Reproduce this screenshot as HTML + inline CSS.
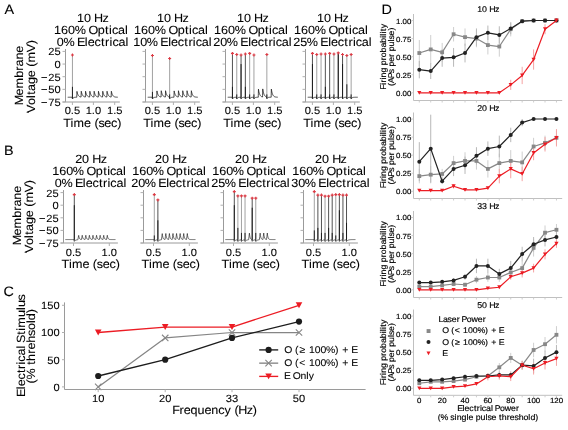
<!DOCTYPE html>
<html><head><meta charset="utf-8"><style>
html,body{margin:0;padding:0;background:#fff;width:568px;height:430px;overflow:hidden}
svg{display:block;font-family:"Liberation Sans", sans-serif;text-rendering:geometricPrecision;will-change:transform}
</style></head><body>
<svg width="568" height="430" viewBox="0 0 568 430">
<rect width="568" height="430" fill="#fff"/>
<text transform="scale(1.0600 1)" x="4.24" y="14" font-size="13.608" fill="#000" stroke="#000" stroke-width="0.08">A</text>
<text transform="scale(1.0600 1)" x="3.78" y="155" font-size="13.608" fill="#000" stroke="#000" stroke-width="0.08">B</text>
<text transform="scale(1.0600 1)" x="3.39" y="296" font-size="13.608" fill="#000" stroke="#000" stroke-width="0.08">C</text>
<text transform="scale(1.0600 1)" x="359.95" y="14" font-size="13.608" fill="#000" stroke="#000" stroke-width="0.08">D</text>
<polyline points="67.72,97.24 67.94,97.24 68.15,97.24 68.37,97.24 68.58,97.24 68.8,97.24 69.01,97.24 69.23,97.24 69.44,97.24 69.66,97.24 69.87,97.24 70.09,97.24 70.3,97.24 70.52,97.24 70.73,97.24 70.95,97.24 71.16,97.24 71.38,97.24 71.59,97.24 71.81,97.24 72.02,97.24 72.23,97.24 72.45,99.01 72.49,98.93 72.56,98.81 72.67,98.62 72.79,98.43 72.88,98.32 73.01,98.17 73.09,98.08 73.31,97.9 73.53,97.75 73.74,97.64 73.95,97.55 74.17,97.48 74.39,97.43 74.6,97.39 74.81,97.36 75.03,97.33 75.25,97.31 75.46,97.3 75.67,97.29 75.89,97.28 76.11,97.27 76.32,97.26 76.53,97.26 76.75,97.26 76.79,96.09 76.86,94.34 76.97,91.43 77.09,92.02 77.18,92.38 77.31,92.88 77.39,93.18 77.61,93.84 77.83,94.4 78.04,94.86 78.26,95.25 78.47,95.58 78.69,95.85 78.9,96.08 79.12,96.27 79.33,96.43 79.55,96.56 79.76,96.67 79.98,96.77 80.19,96.84 80.41,96.91 80.62,96.96 80.84,97.01 81.05,97.05 81.09,95.89 81.16,94.16 81.27,91.26 81.39,91.87 81.48,92.24 81.61,92.75 81.7,93.06 81.91,93.74 82.12,94.31 82.34,94.79 82.56,95.19 82.77,95.53 82.98,95.81 83.2,96.04 83.42,96.24 83.63,96.4 83.84,96.54 84.06,96.66 84.28,96.75 84.49,96.83 84.7,96.9 84.92,96.96 85.14,97 85.35,97.04 85.39,95.89 85.46,94.15 85.56,91.26 85.69,91.86 85.78,92.24 85.91,92.74 86,93.05 86.21,93.74 86.42,94.31 86.64,94.79 86.86,95.19 87.07,95.53 87.28,95.81 87.5,96.04 87.72,96.24 87.93,96.4 88.15,96.54 88.36,96.66 88.58,96.75 88.79,96.83 89,96.9 89.22,96.96 89.44,97 89.65,97.04 89.69,95.89 89.76,94.15 89.87,91.26 89.99,91.86 90.08,92.24 90.21,92.74 90.3,93.05 90.51,93.74 90.73,94.31 90.94,94.79 91.16,95.19 91.37,95.53 91.59,95.81 91.8,96.04 92.02,96.24 92.23,96.4 92.44,96.54 92.66,96.66 92.88,96.75 93.09,96.83 93.31,96.9 93.52,96.96 93.73,97 93.95,97.04 93.99,95.89 94.06,94.15 94.16,91.26 94.29,91.86 94.38,92.24 94.51,92.74 94.59,93.05 94.81,93.74 95.03,94.31 95.24,94.79 95.45,95.19 95.67,95.53 95.88,95.81 96.1,96.04 96.31,96.24 96.53,96.4 96.75,96.54 96.96,96.66 97.17,96.75 97.39,96.83 97.61,96.9 97.82,96.96 98.03,97 98.25,97.04 98.29,95.89 98.36,94.15 98.47,91.26 98.59,91.86 98.68,92.24 98.81,92.74 98.9,93.05 99.11,93.74 99.33,94.31 99.54,94.79 99.75,95.19 99.97,95.53 100.19,95.81 100.4,96.04 100.62,96.24 100.83,96.4 101.05,96.54 101.26,96.66 101.48,96.75 101.69,96.83 101.91,96.9 102.12,96.96 102.34,97 102.55,97.04 102.59,95.89 102.66,94.15 102.77,91.26 102.89,91.86 102.98,92.24 103.11,92.74 103.2,93.05 103.41,93.74 103.62,94.31 103.84,94.79 104.06,95.19 104.27,95.53 104.49,95.81 104.7,96.04 104.91,96.24 105.13,96.4 105.34,96.54 105.56,96.66 105.78,96.75 105.99,96.83 106.2,96.9 106.42,96.96 106.63,97 106.85,97.04 106.89,95.89 106.96,94.15 107.06,91.26 107.19,91.86 107.28,92.24 107.41,92.74 107.5,93.05 107.71,93.74 107.93,94.31 108.14,94.79 108.36,95.19 108.57,95.53 108.78,95.81 109,96.04 109.22,96.24 109.43,96.4 109.65,96.54 109.86,96.66 110.08,96.75 110.29,96.83 110.5,96.9 110.72,96.96 110.94,97 111.15,97.04 111.19,95.89 111.26,94.15 111.37,91.26 111.49,91.86 111.58,92.24 111.71,92.74 111.8,93.05 112.01,93.74 112.22,94.31 112.44,94.79 112.66,95.19 112.87,95.53 113.09,95.81 113.3,96.04 113.52,96.24 113.73,96.4 113.95,96.54 114.16,96.66 114.38,96.75 114.59,96.83 114.81,96.9 115.02,96.96 115.24,97 115.45,97.04 115.66,97.08 115.88,97.1 116.09,97.13 116.31,97.15 116.53,97.16 116.74,97.17 116.95,97.19 117.17,97.2 117.38,97.2 117.6,97.21 117.81,97.22" fill="none" stroke="#1a1a1a" stroke-width="0.8" stroke-linejoin="round"/>
<path d="M72.45 97.24L72.45 54.94" fill="none" stroke="#8a8a8a" stroke-width="0.8"/>
<path d="M72.45 98.24L72.45 86.82" fill="none" stroke="#1a1a1a" stroke-width="0.95"/>
<line x1="65.5" y1="49" x2="65.5" y2="102" stroke="#9a9a9a" stroke-width="1"/>
<line x1="62.5" y1="102" x2="119.8" y2="102" stroke="#9a9a9a" stroke-width="1"/>
<line x1="62.5" y1="51.4" x2="65.5" y2="51.4" stroke="#b0b0b0" stroke-width="1"/>
<line x1="62.5" y1="64.05" x2="65.5" y2="64.05" stroke="#b0b0b0" stroke-width="1"/>
<line x1="62.5" y1="76.7" x2="65.5" y2="76.7" stroke="#b0b0b0" stroke-width="1"/>
<line x1="62.5" y1="89.35" x2="65.5" y2="89.35" stroke="#b0b0b0" stroke-width="1"/>
<line x1="62.5" y1="102" x2="65.5" y2="102" stroke="#b0b0b0" stroke-width="1"/>
<line x1="72.4" y1="102" x2="72.4" y2="105" stroke="#b0b0b0" stroke-width="1"/>
<line x1="93.4" y1="102" x2="93.4" y2="105" stroke="#b0b0b0" stroke-width="1"/>
<line x1="114.7" y1="102" x2="114.7" y2="105" stroke="#b0b0b0" stroke-width="1"/>
<path d="M70.95 54.39h3v1.1h-3zM71.9 53.44h1.1v3h-1.1z" fill="#dc3a44"/>
<text transform="scale(1.0600 1)" x="72.67 79.27 85.87 88.79 96.73" y="22" font-size="11.880" fill="#000" stroke="#000" stroke-width="0.08">10 Hz</text>
<text transform="scale(1.0600 1)" x="51.04 57.64 64.24 70.49 80.7 83.47 92.16 99.14 102.95 105.59 111.29 117.9" y="34" font-size="11.880" fill="#000" stroke="#000" stroke-width="0.08">160% Optical</text>
<text transform="scale(1.0600 1)" x="53.63 59.88 70.09 72.71 80.07 82.72 89.1 95.31 99.15 103.38 106.02 111.72 118.33" y="46" font-size="11.880" fill="#000" stroke="#000" stroke-width="0.08">0% Electrical</text>
<text transform="scale(1.0600 1)" x="61.01 66.84 69.76" y="114" font-size="10.498" fill="#000" stroke="#000" stroke-width="0.08">0.5</text>
<text transform="scale(1.0600 1)" x="80.82 86.65 89.57" y="114" font-size="10.498" fill="#000" stroke="#000" stroke-width="0.08">1.0</text>
<text transform="scale(1.0600 1)" x="100.91 106.75 109.66" y="114" font-size="10.498" fill="#000" stroke="#000" stroke-width="0.08">1.5</text>
<text transform="scale(1.0600 1)" x="59.6 66.52 69.38 79.27 85.77 89.11 92.85 98.41 104.79 110.66" y="127" font-size="11.880" fill="#000" stroke="#000" stroke-width="0.08">Time (sec)</text>
<text transform="scale(1.0600 1)" x="45.55 51.38" y="55" font-size="10.498" fill="#000" stroke="#000" stroke-width="0.08">25</text>
<text transform="scale(1.0600 1)" x="51.38" y="68" font-size="10.498" fill="#000" stroke="#000" stroke-width="0.08">0</text>
<text transform="scale(1.0600 1)" x="38.64 45.55 51.38" y="81" font-size="10.498" fill="#000" stroke="#000" stroke-width="0.08">−25</text>
<text transform="scale(1.0600 1)" x="38.64 45.55 51.38" y="93" font-size="10.498" fill="#000" stroke="#000" stroke-width="0.08">−50</text>
<text transform="scale(1.0600 1)" x="38.64 45.55 51.38" y="106" font-size="10.498" fill="#000" stroke="#000" stroke-width="0.08">−75</text>
<text transform="rotate(-90) scale(1.06 1)" x="-99.37 -90.05 -83.45 -73.46 -66.71 -62.72 -56.25 -49.77" y="23.4" font-size="11.880" fill="#000" stroke="#000" stroke-width="0.08">Membrane</text>
<text transform="rotate(-90) scale(1.06 1)" x="-106.51 -99.13 -92.53 -89.39 -85.83 -79.35 -72.87 -66.37 -63.03 -58.92 -49.33 -41.77" y="34.8" font-size="11.880" fill="#000" stroke="#000" stroke-width="0.08">Voltage (mV)</text>
<polyline points="147.72,97.24 147.94,97.24 148.15,97.24 148.36,97.24 148.58,97.24 148.79,97.24 149.01,97.24 149.22,97.24 149.44,97.24 149.66,97.24 149.87,97.24 150.08,97.24 150.3,97.24 150.51,97.24 150.73,97.24 150.94,97.24 151.16,97.24 151.38,97.24 151.59,97.24 151.8,97.24 152.02,97.24 152.23,97.24 152.45,99.01 152.49,98.93 152.56,98.81 152.66,98.62 152.79,98.43 152.88,98.32 153.01,98.17 153.09,98.08 153.31,97.9 153.52,97.75 153.74,97.64 153.95,97.55 154.17,97.48 154.38,97.43 154.6,97.39 154.81,97.36 155.03,97.33 155.24,97.31 155.46,97.3 155.67,97.29 155.89,97.28 156.1,97.27 156.32,97.26 156.53,97.26 156.75,97.26 156.79,95.99 156.86,94.09 156.96,90.93 157.09,91.57 157.18,91.96 157.31,92.5 157.39,92.82 157.61,93.55 157.82,94.15 158.04,94.66 158.25,95.08 158.47,95.43 158.69,95.73 158.9,95.98 159.11,96.18 159.33,96.36 159.54,96.5 159.76,96.62 159.97,96.72 160.19,96.81 160.41,96.88 160.62,96.94 160.83,96.99 161.05,97.03 161.09,95.77 161.16,93.89 161.26,90.74 161.39,91.4 161.48,91.8 161.61,92.36 161.69,92.69 161.91,93.44 162.12,94.06 162.34,94.58 162.55,95.02 162.77,95.38 162.98,95.69 163.2,95.94 163.41,96.15 163.63,96.33 163.84,96.48 164.06,96.61 164.27,96.71 164.49,96.8 164.7,96.87 164.92,96.93 165.13,96.98 165.35,97.03 165.39,95.77 165.46,93.88 165.56,90.74 165.69,91.4 165.78,91.8 165.91,92.35 165.99,92.69 166.21,93.43 166.42,94.06 166.64,94.58 166.85,95.01 167.07,95.38 167.28,95.68 167.5,95.94 167.71,96.15 167.93,96.33 168.14,96.48 168.36,96.6 168.57,96.71 168.79,96.8 169,96.87 169.22,96.93 169.44,96.98 169.65,98.8 169.69,98.72 169.76,98.61 169.86,98.44 169.99,98.27 170.08,98.16 170.21,98.03 170.29,97.95 170.51,97.79 170.72,97.66 170.94,97.56 171.16,97.49 171.37,97.43 171.58,97.39 171.8,97.35 172.01,97.33 172.23,97.31 172.44,97.29 172.66,97.28 172.88,97.27 173.09,97.26 173.3,97.26 173.52,97.25 173.73,97.25 173.95,97.25 173.99,95.98 174.06,94.09 174.16,90.92 174.29,91.56 174.38,91.96 174.51,92.49 174.59,92.82 174.81,93.54 175.02,94.15 175.24,94.65 175.45,95.08 175.67,95.43 175.88,95.73 176.1,95.98 176.31,96.18 176.53,96.36 176.74,96.5 176.96,96.62 177.17,96.72 177.39,96.81 177.6,96.88 177.82,96.94 178.03,96.99 178.25,97.03 178.29,95.77 178.36,93.89 178.46,90.74 178.59,91.4 178.68,91.8 178.81,92.36 178.89,92.69 179.11,93.44 179.32,94.06 179.54,94.58 179.75,95.02 179.97,95.38 180.19,95.69 180.4,95.94 180.61,96.15 180.83,96.33 181.04,96.48 181.26,96.61 181.47,96.71 181.69,96.8 181.91,96.87 182.12,96.93 182.33,96.98 182.55,97.03 182.59,95.77 182.66,93.88 182.76,90.74 182.89,91.4 182.98,91.8 183.11,92.35 183.19,92.69 183.41,93.43 183.62,94.06 183.84,94.58 184.06,95.01 184.27,95.38 184.48,95.68 184.7,95.94 184.91,96.15 185.13,96.33 185.34,96.48 185.56,96.6 185.77,96.71 185.99,96.8 186.2,96.87 186.42,96.93 186.63,96.98 186.85,97.02 186.89,95.77 186.96,93.88 187.06,90.74 187.19,91.4 187.28,91.8 187.41,92.35 187.49,92.69 187.71,93.43 187.92,94.06 188.14,94.58 188.35,95.01 188.57,95.38 188.78,95.68 189,95.94 189.21,96.15 189.43,96.33 189.64,96.48 189.86,96.6 190.07,96.71 190.29,96.8 190.5,96.87 190.72,96.93 190.94,96.98 191.15,97.02 191.19,95.77 191.26,93.88 191.36,90.74 191.49,91.4 191.58,91.8 191.71,92.35 191.79,92.69 192.01,93.43 192.22,94.06 192.44,94.58 192.66,95.01 192.87,95.38 193.08,95.68 193.3,95.94 193.51,96.15 193.73,96.33 193.94,96.48 194.16,96.6 194.38,96.71 194.59,96.8 194.81,96.87 195.02,96.93 195.23,96.98 195.45,97.02 195.66,97.06 195.88,97.09 196.09,97.12 196.31,97.14 196.52,97.15 196.74,97.17 196.95,97.18 197.17,97.19 197.38,97.2 197.6,97.21 197.81,97.21" fill="none" stroke="#1a1a1a" stroke-width="0.8" stroke-linejoin="round"/>
<path d="M152.45 97.24L152.45 55.45" fill="none" stroke="#8a8a8a" stroke-width="0.8"/>
<path d="M152.45 98.24L152.45 91.88" fill="none" stroke="#1a1a1a" stroke-width="0.95"/>
<path d="M169.65 97.24L169.65 58.48" fill="none" stroke="#8a8a8a" stroke-width="0.8"/>
<path d="M169.65 98.24L169.65 94.41" fill="none" stroke="#1a1a1a" stroke-width="0.95"/>
<line x1="145.5" y1="49" x2="145.5" y2="102" stroke="#9a9a9a" stroke-width="1"/>
<line x1="142.5" y1="102" x2="199.8" y2="102" stroke="#9a9a9a" stroke-width="1"/>
<line x1="142.5" y1="51.4" x2="145.5" y2="51.4" stroke="#b0b0b0" stroke-width="1"/>
<line x1="142.5" y1="64.05" x2="145.5" y2="64.05" stroke="#b0b0b0" stroke-width="1"/>
<line x1="142.5" y1="76.7" x2="145.5" y2="76.7" stroke="#b0b0b0" stroke-width="1"/>
<line x1="142.5" y1="89.35" x2="145.5" y2="89.35" stroke="#b0b0b0" stroke-width="1"/>
<line x1="142.5" y1="102" x2="145.5" y2="102" stroke="#b0b0b0" stroke-width="1"/>
<line x1="152.4" y1="102" x2="152.4" y2="105" stroke="#b0b0b0" stroke-width="1"/>
<line x1="173.4" y1="102" x2="173.4" y2="105" stroke="#b0b0b0" stroke-width="1"/>
<line x1="194.7" y1="102" x2="194.7" y2="105" stroke="#b0b0b0" stroke-width="1"/>
<path d="M150.95 54.9h3v1.1h-3zM151.9 53.95h1.1v3h-1.1z" fill="#dc3a44"/>
<path d="M168.15 57.93h3v1.1h-3zM169.1 56.98h1.1v3h-1.1z" fill="#dc3a44"/>
<text transform="scale(1.0600 1)" x="148.14 154.74 161.35 164.26 172.2" y="22" font-size="11.880" fill="#000" stroke="#000" stroke-width="0.08">10 Hz</text>
<text transform="scale(1.0600 1)" x="126.51 133.11 139.71 145.97 156.18 158.94 167.63 174.62 178.42 181.07 186.77 193.37" y="34" font-size="11.880" fill="#000" stroke="#000" stroke-width="0.08">160% Optical</text>
<text transform="scale(1.0600 1)" x="125.61 132.21 138.46 148.68 151.29 158.65 161.3 167.68 173.89 177.73 181.96 184.61 190.31 196.91" y="46" font-size="11.880" fill="#000" stroke="#000" stroke-width="0.08">10% Electrical</text>
<text transform="scale(1.0600 1)" x="136.48 142.32 145.23" y="114" font-size="10.498" fill="#000" stroke="#000" stroke-width="0.08">0.5</text>
<text transform="scale(1.0600 1)" x="156.29 162.13 165.04" y="114" font-size="10.498" fill="#000" stroke="#000" stroke-width="0.08">1.0</text>
<text transform="scale(1.0600 1)" x="176.39 182.22 185.13" y="114" font-size="10.498" fill="#000" stroke="#000" stroke-width="0.08">1.5</text>
<text transform="scale(1.0600 1)" x="135.07 141.99 144.85 154.75 161.24 164.59 168.32 173.88 180.26 186.13" y="127" font-size="11.880" fill="#000" stroke="#000" stroke-width="0.08">Time (sec)</text>
<polyline points="227.72,97.24 227.94,97.24 228.15,97.24 228.36,97.24 228.58,97.24 228.79,97.24 229.01,97.24 229.22,97.24 229.44,97.24 229.66,97.24 229.87,97.24 230.08,97.24 230.3,97.24 230.51,97.24 230.73,97.24 230.94,97.24 231.16,97.24 231.38,97.24 231.59,97.24 231.8,97.24 232.02,97.24 232.23,97.24 232.45,99.01 232.49,98.93 232.56,98.81 232.66,98.62 232.79,98.43 232.88,98.32 233.01,98.17 233.09,98.08 233.31,97.9 233.52,97.75 233.74,97.64 233.95,97.55 234.17,97.48 234.38,97.43 234.6,97.39 234.81,97.36 235.03,97.33 235.24,97.31 235.46,97.3 235.67,97.29 235.89,97.28 236.1,97.27 236.32,97.26 236.53,97.26 236.75,99.03 236.79,98.94 236.86,98.82 236.96,98.63 237.09,98.44 237.18,98.33 237.31,98.17 237.39,98.09 237.61,97.9 237.82,97.75 238.04,97.64 238.25,97.55 238.47,97.48 238.69,97.43 238.9,97.39 239.11,97.36 239.33,97.33 239.54,97.31 239.76,97.3 239.97,97.29 240.19,97.28 240.41,97.27 240.62,97.26 240.83,97.26 241.05,99.03 241.09,98.94 241.16,98.82 241.26,98.63 241.39,98.44 241.48,98.33 241.61,98.17 241.69,98.09 241.91,97.9 242.12,97.75 242.34,97.64 242.55,97.55 242.77,97.48 242.98,97.43 243.2,97.39 243.41,97.36 243.63,97.33 243.84,97.31 244.06,97.3 244.27,97.29 244.49,97.28 244.7,97.27 244.92,97.26 245.13,97.26 245.35,99.03 245.39,98.94 245.46,98.82 245.56,98.63 245.69,98.44 245.78,98.33 245.91,98.17 245.99,98.09 246.21,97.9 246.42,97.75 246.64,97.64 246.85,97.55 247.07,97.48 247.28,97.43 247.5,97.39 247.71,97.36 247.93,97.33 248.14,97.31 248.36,97.3 248.57,97.29 248.79,97.28 249,97.27 249.22,97.26 249.44,97.26 249.65,99.03 249.69,98.94 249.76,98.82 249.86,98.63 249.99,98.44 250.08,98.33 250.21,98.17 250.29,98.09 250.51,97.9 250.72,97.75 250.94,97.64 251.16,97.55 251.37,97.48 251.58,97.43 251.8,97.39 252.01,97.36 252.23,97.33 252.44,97.31 252.66,97.3 252.88,97.29 253.09,97.28 253.3,97.27 253.52,97.26 253.73,97.26 253.95,99.03 253.99,98.94 254.06,98.82 254.16,98.63 254.29,98.44 254.38,98.33 254.51,98.17 254.59,98.09 254.81,97.9 255.02,97.75 255.24,97.64 255.45,97.55 255.67,97.48 255.88,97.43 256.1,97.39 256.31,97.36 256.53,97.33 256.75,97.31 256.96,97.3 257.18,97.29 257.39,97.28 257.6,97.27 257.82,97.26 258.03,97.26 258.25,97.26 258.29,95.64 258.36,93.21 258.46,89.16 258.59,89.98 258.68,90.48 258.81,91.17 258.89,91.58 259.11,92.51 259.32,93.28 259.54,93.93 259.75,94.47 259.97,94.93 260.19,95.3 260.4,95.62 260.62,95.89 260.83,96.11 261.05,96.29 261.26,96.45 261.47,96.58 261.69,96.69 261.9,96.78 262.12,96.85 262.33,96.92 262.55,96.97 262.59,95.36 262.66,92.95 262.76,88.92 262.89,89.77 262.98,90.28 263.11,90.99 263.19,91.42 263.41,92.37 263.62,93.17 263.84,93.84 264.06,94.39 264.27,94.86 264.49,95.25 264.7,95.58 264.91,95.85 265.13,96.08 265.34,96.27 265.56,96.43 265.77,96.56 265.99,96.67 266.2,96.77 266.42,96.84 266.63,96.91 266.85,98.73 266.89,98.66 266.96,98.55 267.06,98.39 267.19,98.22 267.28,98.12 267.41,97.99 267.5,97.92 267.71,97.76 267.93,97.64 268.14,97.54 268.36,97.47 268.57,97.42 268.78,97.37 269,97.34 269.21,97.32 269.43,97.3 269.64,97.28 269.86,97.27 270.07,97.27 270.29,97.26 270.5,97.26 270.72,97.25 270.94,97.25 271.15,97.25 271.19,95.63 271.26,93.2 271.37,89.15 271.49,89.97 271.58,90.47 271.71,91.16 271.79,91.58 272.01,92.51 272.22,93.28 272.44,93.93 272.65,94.47 272.87,94.92 273.08,95.3 273.3,95.62 273.51,95.89 273.73,96.11 273.94,96.29 274.16,96.45 274.38,96.58 274.59,96.69 274.81,96.78 275.02,96.85 275.24,96.92 275.45,96.97 275.66,97.02 275.88,97.05 276.09,97.08 276.31,97.11 276.52,97.13 276.74,97.15 276.95,97.17 277.17,97.18 277.38,97.19 277.6,97.2 277.81,97.21" fill="none" stroke="#1a1a1a" stroke-width="0.8" stroke-linejoin="round"/>
<path d="M232.45 97.24L232.45 53.42" fill="none" stroke="#262626" stroke-width="0.8"/>
<path d="M232.45 98.24L232.45 86.82" fill="none" stroke="#1a1a1a" stroke-width="0.95"/>
<path d="M236.75 97.24L236.75 54.44" fill="none" stroke="#8a8a8a" stroke-width="0.8"/>
<path d="M236.75 98.24L236.75 94.41" fill="none" stroke="#1a1a1a" stroke-width="0.95"/>
<path d="M241.05 97.24L241.05 54.94" fill="none" stroke="#262626" stroke-width="0.8"/>
<path d="M241.05 98.24L241.05 64.05" fill="none" stroke="#1a1a1a" stroke-width="0.95"/>
<path d="M245.35 97.24L245.35 53.93" fill="none" stroke="#262626" stroke-width="0.8"/>
<path d="M245.35 98.24L245.35 86.82" fill="none" stroke="#1a1a1a" stroke-width="0.95"/>
<path d="M249.65 97.24L249.65 53.42" fill="none" stroke="#8a8a8a" stroke-width="0.8"/>
<path d="M249.65 98.24L249.65 94.41" fill="none" stroke="#1a1a1a" stroke-width="0.95"/>
<path d="M253.95 97.24L253.95 54.94" fill="none" stroke="#8a8a8a" stroke-width="0.8"/>
<path d="M253.95 98.24L253.95 94.41" fill="none" stroke="#1a1a1a" stroke-width="0.95"/>
<path d="M266.85 97.24L266.85 54.44" fill="none" stroke="#8a8a8a" stroke-width="0.8"/>
<path d="M266.85 98.24L266.85 94.41" fill="none" stroke="#1a1a1a" stroke-width="0.95"/>
<line x1="225.5" y1="49" x2="225.5" y2="102" stroke="#9a9a9a" stroke-width="1"/>
<line x1="222.5" y1="102" x2="279.8" y2="102" stroke="#9a9a9a" stroke-width="1"/>
<line x1="222.5" y1="51.4" x2="225.5" y2="51.4" stroke="#b0b0b0" stroke-width="1"/>
<line x1="222.5" y1="64.05" x2="225.5" y2="64.05" stroke="#b0b0b0" stroke-width="1"/>
<line x1="222.5" y1="76.7" x2="225.5" y2="76.7" stroke="#b0b0b0" stroke-width="1"/>
<line x1="222.5" y1="89.35" x2="225.5" y2="89.35" stroke="#b0b0b0" stroke-width="1"/>
<line x1="222.5" y1="102" x2="225.5" y2="102" stroke="#b0b0b0" stroke-width="1"/>
<line x1="232.4" y1="102" x2="232.4" y2="105" stroke="#b0b0b0" stroke-width="1"/>
<line x1="253.4" y1="102" x2="253.4" y2="105" stroke="#b0b0b0" stroke-width="1"/>
<line x1="274.7" y1="102" x2="274.7" y2="105" stroke="#b0b0b0" stroke-width="1"/>
<path d="M230.95 52.87h3v1.1h-3zM231.9 51.92h1.1v3h-1.1z" fill="#dc3a44"/>
<path d="M235.25 53.89h3v1.1h-3zM236.2 52.94h1.1v3h-1.1z" fill="#dc3a44"/>
<path d="M239.55 54.39h3v1.1h-3zM240.5 53.44h1.1v3h-1.1z" fill="#dc3a44"/>
<path d="M243.85 53.38h3v1.1h-3zM244.8 52.43h1.1v3h-1.1z" fill="#dc3a44"/>
<path d="M248.15 52.87h3v1.1h-3zM249.1 51.92h1.1v3h-1.1z" fill="#dc3a44"/>
<path d="M252.45 54.39h3v1.1h-3zM253.4 53.44h1.1v3h-1.1z" fill="#dc3a44"/>
<path d="M265.35 53.89h3v1.1h-3zM266.3 52.94h1.1v3h-1.1z" fill="#dc3a44"/>
<text transform="scale(1.0600 1)" x="223.61 230.21 236.82 239.73 247.67" y="22" font-size="11.880" fill="#000" stroke="#000" stroke-width="0.08">10 Hz</text>
<text transform="scale(1.0600 1)" x="201.98 208.58 215.18 221.44 231.65 234.41 243.11 250.09 253.89 256.54 262.24 268.84" y="34" font-size="11.880" fill="#000" stroke="#000" stroke-width="0.08">160% Optical</text>
<text transform="scale(1.0600 1)" x="201.08 207.68 213.94 224.15 226.76 234.13 236.78 243.15 249.36 253.2 257.43 260.08 265.78 272.38" y="46" font-size="11.880" fill="#000" stroke="#000" stroke-width="0.08">20% Electrical</text>
<text transform="scale(1.0600 1)" x="211.95 217.79 220.7" y="114" font-size="10.498" fill="#000" stroke="#000" stroke-width="0.08">0.5</text>
<text transform="scale(1.0600 1)" x="231.76 237.6 240.51" y="114" font-size="10.498" fill="#000" stroke="#000" stroke-width="0.08">1.0</text>
<text transform="scale(1.0600 1)" x="251.86 257.69 260.61" y="114" font-size="10.498" fill="#000" stroke="#000" stroke-width="0.08">1.5</text>
<text transform="scale(1.0600 1)" x="210.54 217.46 220.33 230.22 236.71 240.06 243.79 249.36 255.73 261.6" y="127" font-size="11.880" fill="#000" stroke="#000" stroke-width="0.08">Time (sec)</text>
<polyline points="307.72,97.24 307.94,97.24 308.15,97.24 308.37,97.24 308.58,97.24 308.8,97.24 309.01,97.24 309.22,97.24 309.44,97.24 309.65,97.24 309.87,97.24 310.08,97.24 310.3,97.24 310.51,97.24 310.73,97.24 310.94,97.24 311.16,97.24 311.38,97.24 311.59,97.24 311.81,97.24 312.02,97.24 312.24,97.24 312.45,99.01 312.49,98.93 312.56,98.81 312.66,98.62 312.79,98.43 312.88,98.32 313.01,98.17 313.09,98.08 313.31,97.9 313.52,97.75 313.74,97.64 313.95,97.55 314.17,97.48 314.38,97.43 314.6,97.39 314.81,97.36 315.03,97.33 315.25,97.31 315.46,97.3 315.68,97.29 315.89,97.28 316.1,97.27 316.32,97.26 316.53,97.26 316.75,99.03 316.79,98.94 316.86,98.82 316.96,98.63 317.09,98.44 317.18,98.33 317.31,98.17 317.39,98.09 317.61,97.9 317.82,97.75 318.04,97.64 318.25,97.55 318.47,97.48 318.69,97.43 318.9,97.39 319.12,97.36 319.33,97.33 319.55,97.31 319.76,97.3 319.97,97.29 320.19,97.28 320.4,97.27 320.62,97.26 320.83,97.26 321.05,99.03 321.09,98.94 321.16,98.82 321.26,98.63 321.39,98.44 321.48,98.33 321.61,98.17 321.69,98.09 321.91,97.9 322.12,97.75 322.34,97.64 322.56,97.55 322.77,97.48 322.99,97.43 323.2,97.39 323.41,97.36 323.63,97.33 323.84,97.31 324.06,97.3 324.27,97.29 324.49,97.28 324.7,97.27 324.92,97.26 325.13,97.26 325.35,99.03 325.39,98.94 325.46,98.82 325.56,98.63 325.69,98.44 325.78,98.33 325.91,98.17 326,98.09 326.21,97.9 326.43,97.75 326.64,97.64 326.85,97.55 327.07,97.48 327.28,97.43 327.5,97.39 327.71,97.36 327.93,97.33 328.14,97.31 328.36,97.3 328.57,97.29 328.79,97.28 329,97.27 329.22,97.26 329.44,97.26 329.65,99.03 329.69,98.94 329.76,98.82 329.87,98.63 329.99,98.44 330.08,98.33 330.21,98.17 330.3,98.09 330.51,97.9 330.72,97.75 330.94,97.64 331.15,97.55 331.37,97.48 331.58,97.43 331.8,97.39 332.01,97.36 332.23,97.33 332.44,97.31 332.66,97.3 332.88,97.29 333.09,97.28 333.31,97.27 333.52,97.26 333.74,97.26 333.95,99.03 333.99,98.94 334.06,98.82 334.16,98.63 334.29,98.44 334.38,98.33 334.51,98.17 334.59,98.09 334.81,97.9 335.02,97.75 335.24,97.64 335.45,97.55 335.67,97.48 335.88,97.43 336.1,97.39 336.31,97.36 336.53,97.33 336.75,97.31 336.96,97.3 337.18,97.29 337.39,97.28 337.6,97.27 337.82,97.26 338.03,97.26 338.25,99.03 338.29,98.94 338.36,98.82 338.46,98.63 338.59,98.44 338.68,98.33 338.81,98.17 338.89,98.09 339.11,97.9 339.32,97.75 339.54,97.64 339.75,97.55 339.97,97.48 340.19,97.43 340.4,97.39 340.62,97.36 340.83,97.33 341.05,97.31 341.26,97.3 341.47,97.29 341.69,97.28 341.9,97.27 342.12,97.26 342.33,97.26 342.55,97.26 342.59,98.94 342.66,98.82 342.76,98.63 342.89,98.44 342.98,98.33 343.11,98.17 343.19,98.09 343.41,97.9 343.62,97.75 343.84,97.64 344.06,97.55 344.27,97.48 344.49,97.43 344.7,97.39 344.91,97.36 345.13,97.33 345.34,97.31 345.56,97.3 345.77,97.29 345.99,97.28 346.2,97.27 346.42,97.26 346.63,97.26 346.85,99.03 346.89,98.94 346.96,98.82 347.06,98.63 347.19,98.44 347.28,98.33 347.41,98.17 347.5,98.09 347.71,97.9 347.93,97.75 348.14,97.64 348.36,97.55 348.57,97.48 348.78,97.43 349,97.39 349.21,97.36 349.43,97.33 349.64,97.31 349.86,97.3 350.07,97.29 350.29,97.28 350.5,97.27 350.72,97.26 350.94,97.26 351.15,99.03 351.19,98.94 351.26,98.82 351.37,98.63 351.49,98.44 351.58,98.33 351.71,98.17 351.79,98.09 352.01,97.9 352.22,97.75 352.44,97.64 352.65,97.55 352.87,97.48 353.08,97.43 353.3,97.39 353.51,97.36 353.73,97.33 353.94,97.31 354.16,97.3 354.38,97.29 354.59,97.28 354.81,97.27 355.02,97.26 355.24,97.26 355.45,97.26 355.66,97.25 355.88,97.25 356.09,97.25 356.31,97.25 356.52,97.25 356.74,97.25 356.95,97.25 357.17,97.25 357.38,97.24 357.6,97.24 357.81,97.24" fill="none" stroke="#1a1a1a" stroke-width="0.8" stroke-linejoin="round"/>
<path d="M312.45 97.24L312.45 53.42" fill="none" stroke="#262626" stroke-width="0.8"/>
<path d="M312.45 98.24L312.45 64.05" fill="none" stroke="#1a1a1a" stroke-width="0.95"/>
<path d="M316.75 97.24L316.75 54.44" fill="none" stroke="#8a8a8a" stroke-width="0.8"/>
<path d="M316.75 98.24L316.75 94.41" fill="none" stroke="#1a1a1a" stroke-width="0.95"/>
<path d="M321.05 97.24L321.05 53.93" fill="none" stroke="#8a8a8a" stroke-width="0.8"/>
<path d="M321.05 98.24L321.05 94.41" fill="none" stroke="#1a1a1a" stroke-width="0.95"/>
<path d="M325.35 97.24L325.35 53.93" fill="none" stroke="#262626" stroke-width="0.8"/>
<path d="M325.35 98.24L325.35 86.82" fill="none" stroke="#1a1a1a" stroke-width="0.95"/>
<path d="M329.65 97.24L329.65 53.42" fill="none" stroke="#262626" stroke-width="0.8"/>
<path d="M329.65 98.24L329.65 94.41" fill="none" stroke="#1a1a1a" stroke-width="0.95"/>
<path d="M333.95 97.24L333.95 53.93" fill="none" stroke="#8a8a8a" stroke-width="0.8"/>
<path d="M333.95 98.24L333.95 94.41" fill="none" stroke="#1a1a1a" stroke-width="0.95"/>
<path d="M338.25 97.24L338.25 52.92" fill="none" stroke="#262626" stroke-width="0.8"/>
<path d="M338.25 98.24L338.25 53.93" fill="none" stroke="#1a1a1a" stroke-width="0.95"/>
<path d="M342.55 97.24L342.55 54.44" fill="none" stroke="#262626" stroke-width="0.8"/>
<path d="M342.55 98.24L342.55 64.05" fill="none" stroke="#1a1a1a" stroke-width="0.95"/>
<path d="M346.85 97.24L346.85 55.45" fill="none" stroke="#8a8a8a" stroke-width="0.8"/>
<path d="M346.85 98.24L346.85 84.29" fill="none" stroke="#1a1a1a" stroke-width="0.95"/>
<path d="M351.15 97.24L351.15 54.44" fill="none" stroke="#8a8a8a" stroke-width="0.8"/>
<path d="M351.15 98.24L351.15 94.41" fill="none" stroke="#1a1a1a" stroke-width="0.95"/>
<line x1="305.5" y1="49" x2="305.5" y2="102" stroke="#9a9a9a" stroke-width="1"/>
<line x1="302.5" y1="102" x2="359.8" y2="102" stroke="#9a9a9a" stroke-width="1"/>
<line x1="302.5" y1="51.4" x2="305.5" y2="51.4" stroke="#b0b0b0" stroke-width="1"/>
<line x1="302.5" y1="64.05" x2="305.5" y2="64.05" stroke="#b0b0b0" stroke-width="1"/>
<line x1="302.5" y1="76.7" x2="305.5" y2="76.7" stroke="#b0b0b0" stroke-width="1"/>
<line x1="302.5" y1="89.35" x2="305.5" y2="89.35" stroke="#b0b0b0" stroke-width="1"/>
<line x1="302.5" y1="102" x2="305.5" y2="102" stroke="#b0b0b0" stroke-width="1"/>
<line x1="312.4" y1="102" x2="312.4" y2="105" stroke="#b0b0b0" stroke-width="1"/>
<line x1="333.4" y1="102" x2="333.4" y2="105" stroke="#b0b0b0" stroke-width="1"/>
<line x1="354.7" y1="102" x2="354.7" y2="105" stroke="#b0b0b0" stroke-width="1"/>
<path d="M310.95 52.87h3v1.1h-3zM311.9 51.92h1.1v3h-1.1z" fill="#dc3a44"/>
<path d="M315.25 53.89h3v1.1h-3zM316.2 52.94h1.1v3h-1.1z" fill="#dc3a44"/>
<path d="M319.55 53.38h3v1.1h-3zM320.5 52.43h1.1v3h-1.1z" fill="#dc3a44"/>
<path d="M323.85 53.38h3v1.1h-3zM324.8 52.43h1.1v3h-1.1z" fill="#dc3a44"/>
<path d="M328.15 52.87h3v1.1h-3zM329.1 51.92h1.1v3h-1.1z" fill="#dc3a44"/>
<path d="M332.45 53.38h3v1.1h-3zM333.4 52.43h1.1v3h-1.1z" fill="#dc3a44"/>
<path d="M336.75 52.37h3v1.1h-3zM337.7 51.42h1.1v3h-1.1z" fill="#dc3a44"/>
<path d="M341.05 53.89h3v1.1h-3zM342 52.94h1.1v3h-1.1z" fill="#dc3a44"/>
<path d="M345.35 54.9h3v1.1h-3zM346.3 53.95h1.1v3h-1.1z" fill="#dc3a44"/>
<path d="M349.65 53.89h3v1.1h-3zM350.6 52.94h1.1v3h-1.1z" fill="#dc3a44"/>
<text transform="scale(1.0600 1)" x="299.08 305.69 312.29 315.2 323.15" y="22" font-size="11.880" fill="#000" stroke="#000" stroke-width="0.08">10 Hz</text>
<text transform="scale(1.0600 1)" x="277.45 284.05 290.66 296.91 307.12 309.88 318.58 325.56 329.37 332.01 337.71 344.31" y="34" font-size="11.880" fill="#000" stroke="#000" stroke-width="0.08">160% Optical</text>
<text transform="scale(1.0600 1)" x="276.55 283.15 289.41 299.62 302.24 309.6 312.25 318.63 324.83 328.67 332.91 335.55 341.25 347.85" y="46" font-size="11.880" fill="#000" stroke="#000" stroke-width="0.08">25% Electrical</text>
<text transform="scale(1.0600 1)" x="287.42 293.26 296.17" y="114" font-size="10.498" fill="#000" stroke="#000" stroke-width="0.08">0.5</text>
<text transform="scale(1.0600 1)" x="307.23 313.07 315.98" y="114" font-size="10.498" fill="#000" stroke="#000" stroke-width="0.08">1.0</text>
<text transform="scale(1.0600 1)" x="327.33 333.16 336.08" y="114" font-size="10.498" fill="#000" stroke="#000" stroke-width="0.08">1.5</text>
<text transform="scale(1.0600 1)" x="286.01 292.93 295.8 305.69 312.18 315.53 319.27 324.83 331.21 337.08" y="127" font-size="11.880" fill="#000" stroke="#000" stroke-width="0.08">Time (sec)</text>
<polyline points="65.35,239.57 65.71,239.57 66.07,239.57 66.42,239.57 66.78,239.57 67.14,239.57 67.5,239.57 67.86,239.57 68.21,239.57 68.57,239.57 68.93,239.57 69.29,239.57 69.65,239.57 70,239.57 70.36,239.57 70.72,239.57 71.08,239.57 71.44,239.57 71.79,239.57 72.15,239.57 72.51,239.57 72.87,239.57 73.23,239.57 73.58,239.57 73.94,239.57 74.3,241.34 74.37,241.25 74.66,240.95 74.69,240.91 75.02,240.64 75.09,240.59 75.3,240.45 75.37,240.41 75.66,240.26 75.73,240.22 76.09,240.08 76.16,240.05 76.45,239.97 76.81,239.88 77.16,239.81 77.24,239.8 77.52,239.76 77.88,239.72 77.95,239.32 78.24,237.74 78.27,237.54 78.6,235.77 78.67,235.37 78.88,236.58 78.95,236.89 79.24,237.87 79.31,238.05 79.67,238.71 79.74,238.8 80.03,239.09 80.39,239.3 80.74,239.42 80.82,239.44 81.1,239.49 81.46,239.53 81.53,239.14 81.82,237.6 81.85,237.41 82.18,235.67 82.25,235.28 82.46,236.5 82.53,236.82 82.82,237.81 82.89,238 83.25,238.67 83.32,238.76 83.61,239.05 83.97,239.28 84.32,239.4 84.4,239.42 84.68,239.48 85.04,239.52 85.11,239.13 85.4,237.59 85.43,237.4 85.76,235.66 85.83,235.27 86.04,236.49 86.11,236.82 86.4,237.81 86.47,237.99 86.83,238.67 86.9,238.76 87.19,239.05 87.55,239.27 87.9,239.4 87.98,239.42 88.26,239.47 88.62,239.52 88.69,239.13 88.98,237.59 89.01,237.4 89.34,235.66 89.41,235.27 89.62,236.49 89.69,236.82 89.98,237.8 90.05,237.99 90.41,238.67 90.48,238.76 90.77,239.05 91.13,239.27 91.48,239.4 91.56,239.42 91.84,239.47 92.2,239.52 92.27,239.13 92.56,237.59 92.59,237.4 92.92,235.66 92.99,235.27 93.2,236.49 93.27,236.82 93.56,237.8 93.63,237.99 93.99,238.67 94.06,238.76 94.35,239.05 94.71,239.27 95.06,239.4 95.14,239.42 95.42,239.47 95.78,239.52 95.85,239.13 96.14,237.59 96.17,237.4 96.5,235.66 96.57,235.27 96.78,236.49 96.85,236.82 97.14,237.8 97.21,237.99 97.57,238.67 97.64,238.76 97.93,239.05 98.29,239.27 98.64,239.4 98.72,239.42 99,239.47 99.36,239.52 99.43,239.13 99.72,237.59 99.75,237.4 100.08,235.66 100.15,235.27 100.36,236.49 100.43,236.82 100.72,237.8 100.79,237.99 101.15,238.67 101.22,238.76 101.51,239.05 101.87,239.27 102.22,239.4 102.3,239.42 102.58,239.47 102.94,239.52 103.01,239.13 103.3,237.59 103.33,237.4 103.66,235.66 103.73,235.27 103.94,236.49 104.01,236.82 104.3,237.8 104.37,237.99 104.73,238.67 104.8,238.76 105.09,239.05 105.45,239.27 105.8,239.4 105.88,239.42 106.16,239.47 106.52,239.52 106.59,239.13 106.88,237.59 106.91,237.4 107.24,235.66 107.31,235.27 107.52,236.49 107.59,236.82 107.88,237.8 107.95,237.99 108.31,238.67 108.38,238.76 108.67,239.05 109.03,239.27 109.38,239.4 109.46,239.42 109.74,239.47 110.1,239.52 110.46,239.54 110.82,239.55 111.17,239.56 111.53,239.57 111.89,239.57 112.25,239.57 112.61,239.57 112.96,239.57 113.32,239.57 113.68,239.57 114.04,239.57 114.4,239.57 114.75,239.57 115.11,239.57 115.47,239.57" fill="none" stroke="#1a1a1a" stroke-width="0.65" stroke-linejoin="round"/>
<path d="M74.3 239.57L74.3 194.62" fill="none" stroke="#262626" stroke-width="0.8"/>
<path d="M74.3 240.57L74.3 205.2" fill="none" stroke="#1a1a1a" stroke-width="0.95"/>
<line x1="63.5" y1="190.1" x2="63.5" y2="243" stroke="#9a9a9a" stroke-width="1"/>
<line x1="60.5" y1="243" x2="117.9" y2="243" stroke="#9a9a9a" stroke-width="1"/>
<line x1="60.5" y1="192.6" x2="63.5" y2="192.6" stroke="#b0b0b0" stroke-width="1"/>
<line x1="60.5" y1="205.2" x2="63.5" y2="205.2" stroke="#b0b0b0" stroke-width="1"/>
<line x1="60.5" y1="217.8" x2="63.5" y2="217.8" stroke="#b0b0b0" stroke-width="1"/>
<line x1="60.5" y1="230.4" x2="63.5" y2="230.4" stroke="#b0b0b0" stroke-width="1"/>
<line x1="60.5" y1="243" x2="63.5" y2="243" stroke="#b0b0b0" stroke-width="1"/>
<line x1="73.5" y1="243" x2="73.5" y2="246" stroke="#b0b0b0" stroke-width="1"/>
<line x1="109.3" y1="243" x2="109.3" y2="246" stroke="#b0b0b0" stroke-width="1"/>
<path d="M72.8 194.07h3v1.1h-3zM73.75 193.12h1.1v3h-1.1z" fill="#dc3a44"/>
<text transform="scale(1.0600 1)" x="70.88 77.48 84.08 86.99 94.94" y="163" font-size="11.880" fill="#000" stroke="#000" stroke-width="0.08">20 Hz</text>
<text transform="scale(1.0600 1)" x="49.24 55.85 62.45 68.7 78.91 81.68 90.37 97.35 101.16 103.8 109.5 116.11" y="175" font-size="11.880" fill="#000" stroke="#000" stroke-width="0.08">160% Optical</text>
<text transform="scale(1.0600 1)" x="51.74 57.99 68.2 70.82 78.18 80.83 87.21 93.42 97.26 101.49 104.14 109.83 116.44" y="187" font-size="11.880" fill="#000" stroke="#000" stroke-width="0.08">0% Electrical</text>
<text transform="scale(1.0600 1)" x="62.05 67.88 70.79" y="256" font-size="10.498" fill="#000" stroke="#000" stroke-width="0.08">0.5</text>
<text transform="scale(1.0600 1)" x="95.82 101.65 104.57" y="256" font-size="10.498" fill="#000" stroke="#000" stroke-width="0.08">1.0</text>
<text transform="scale(1.0600 1)" x="58.09 65.01 67.87 77.76 84.26 87.61 91.34 96.9 103.28 109.15" y="268" font-size="11.880" fill="#000" stroke="#000" stroke-width="0.08">Time (sec)</text>
<text transform="scale(1.0600 1)" x="43.71 49.54" y="197" font-size="10.498" fill="#000" stroke="#000" stroke-width="0.08">25</text>
<text transform="scale(1.0600 1)" x="49.54" y="209" font-size="10.498" fill="#000" stroke="#000" stroke-width="0.08">0</text>
<text transform="scale(1.0600 1)" x="36.8 43.71 49.54" y="222" font-size="10.498" fill="#000" stroke="#000" stroke-width="0.08">−25</text>
<text transform="scale(1.0600 1)" x="36.8 43.71 49.54" y="234" font-size="10.498" fill="#000" stroke="#000" stroke-width="0.08">−50</text>
<text transform="scale(1.0600 1)" x="36.8 43.71 49.54" y="247" font-size="10.498" fill="#000" stroke="#000" stroke-width="0.08">−75</text>
<text transform="rotate(-90) scale(1.06 1)" x="-231.44 -222.13 -215.53 -205.53 -198.78 -194.79 -188.33 -181.85" y="21.4" font-size="11.880" fill="#000" stroke="#000" stroke-width="0.08">Membrane</text>
<text transform="rotate(-90) scale(1.06 1)" x="-238.59 -231.21 -224.61 -221.46 -217.9 -211.43 -204.94 -198.45 -195.1 -190.99 -181.4 -173.84" y="32.8" font-size="11.880" fill="#000" stroke="#000" stroke-width="0.08">Voltage (mV)</text>
<polyline points="145.35,239.57 145.71,239.57 146.07,239.57 146.42,239.57 146.78,239.57 147.14,239.57 147.5,239.57 147.86,239.57 148.21,239.57 148.57,239.57 148.93,239.57 149.29,239.57 149.65,239.57 150,239.57 150.36,239.57 150.72,239.57 151.08,239.57 151.44,239.57 151.79,239.57 152.15,239.57 152.51,239.57 152.87,239.57 153.23,239.57 153.58,239.57 153.94,239.57 154.3,241.34 154.37,241.25 154.66,240.95 154.69,240.91 155.02,240.64 155.09,240.59 155.3,240.45 155.37,240.41 155.66,240.26 155.73,240.22 156.09,240.08 156.16,240.05 156.45,239.97 156.81,239.88 157.16,239.81 157.24,239.8 157.52,239.76 157.88,241.48 157.95,241.39 158.24,241.06 158.27,241.02 158.6,240.73 158.67,240.67 158.88,240.52 158.95,240.47 159.24,240.31 159.31,240.28 159.67,240.12 159.74,240.09 160.03,240 160.39,239.9 160.74,239.83 160.82,239.82 161.1,239.77 161.46,239.73 161.53,239.17 161.82,236.95 161.85,236.67 162.18,234.17 162.25,233.62 162.46,235.32 162.53,235.77 162.82,237.15 162.89,237.41 163.25,238.34 163.32,238.47 163.61,238.88 163.97,239.18 164.32,239.35 164.4,239.38 164.68,239.45 165.04,239.51 165.11,238.96 165.4,236.79 165.43,236.52 165.76,234.06 165.83,233.51 166.04,235.23 166.11,235.69 166.4,237.08 166.47,237.34 166.83,238.29 166.9,238.43 167.19,238.84 167.55,239.15 167.9,239.33 167.98,239.36 168.26,239.44 168.62,239.49 168.69,238.95 168.98,236.78 169.01,236.51 169.34,234.05 169.41,233.5 169.62,235.22 169.69,235.68 169.98,237.08 170.05,237.34 170.41,238.29 170.48,238.43 170.77,238.84 171.13,239.15 171.48,239.33 171.56,239.36 171.84,239.43 172.2,239.49 172.27,238.95 172.56,236.78 172.59,236.51 172.92,234.05 172.99,233.5 173.2,235.22 173.27,235.68 173.56,237.08 173.63,237.34 173.99,238.29 174.06,238.43 174.35,238.84 174.71,239.15 175.06,239.33 175.14,239.36 175.42,239.43 175.78,239.49 175.85,238.95 176.14,236.78 176.17,236.51 176.5,234.05 176.57,233.5 176.78,235.22 176.85,235.68 177.14,237.08 177.21,237.34 177.57,238.29 177.64,238.43 177.93,238.84 178.29,239.15 178.64,239.33 178.72,239.36 179,239.43 179.36,239.49 179.43,238.95 179.72,236.78 179.75,236.51 180.08,234.05 180.15,233.5 180.36,235.22 180.43,235.68 180.72,237.08 180.79,237.34 181.15,238.29 181.22,238.43 181.51,238.84 181.87,239.15 182.22,239.33 182.3,239.36 182.58,239.43 182.94,239.49 183.01,238.95 183.3,236.78 183.33,236.51 183.66,234.05 183.73,233.5 183.94,235.22 184.01,235.68 184.3,237.08 184.37,237.34 184.73,238.29 184.8,238.43 185.09,238.84 185.45,239.15 185.8,239.33 185.88,239.36 186.16,239.43 186.52,239.49 186.59,238.95 186.88,236.78 186.91,236.51 187.24,234.05 187.31,233.5 187.52,235.22 187.59,235.68 187.88,237.08 187.95,237.34 188.31,238.29 188.38,238.43 188.67,238.84 189.03,239.15 189.38,239.33 189.46,239.36 189.74,239.43 190.1,239.49 190.46,239.53 190.82,239.55 191.17,239.56 191.53,239.56 191.89,239.57 192.25,239.57 192.61,239.57 192.96,239.57 193.32,239.57 193.68,239.57 194.04,239.57 194.4,239.57 194.75,239.57 195.11,239.57 195.47,239.57" fill="none" stroke="#1a1a1a" stroke-width="0.65" stroke-linejoin="round"/>
<path d="M154.3 239.57L154.3 194.62" fill="none" stroke="#8a8a8a" stroke-width="0.8"/>
<path d="M154.3 240.57L154.3 235.44" fill="none" stroke="#1a1a1a" stroke-width="0.95"/>
<path d="M157.88 239.57L157.88 199.91" fill="none" stroke="#262626" stroke-width="0.8"/>
<path d="M157.88 240.57L157.88 220.32" fill="none" stroke="#1a1a1a" stroke-width="0.95"/>
<line x1="143.5" y1="190.1" x2="143.5" y2="243" stroke="#9a9a9a" stroke-width="1"/>
<line x1="140.5" y1="243" x2="197.9" y2="243" stroke="#9a9a9a" stroke-width="1"/>
<line x1="140.5" y1="192.6" x2="143.5" y2="192.6" stroke="#b0b0b0" stroke-width="1"/>
<line x1="140.5" y1="205.2" x2="143.5" y2="205.2" stroke="#b0b0b0" stroke-width="1"/>
<line x1="140.5" y1="217.8" x2="143.5" y2="217.8" stroke="#b0b0b0" stroke-width="1"/>
<line x1="140.5" y1="230.4" x2="143.5" y2="230.4" stroke="#b0b0b0" stroke-width="1"/>
<line x1="140.5" y1="243" x2="143.5" y2="243" stroke="#b0b0b0" stroke-width="1"/>
<line x1="153.5" y1="243" x2="153.5" y2="246" stroke="#b0b0b0" stroke-width="1"/>
<line x1="189.3" y1="243" x2="189.3" y2="246" stroke="#b0b0b0" stroke-width="1"/>
<path d="M152.8 194.07h3v1.1h-3zM153.75 193.12h1.1v3h-1.1z" fill="#dc3a44"/>
<path d="M156.38 199.36h3v1.1h-3zM157.33 198.41h1.1v3h-1.1z" fill="#dc3a44"/>
<text transform="scale(1.0600 1)" x="146.35 152.95 159.55 162.46 170.41" y="163" font-size="11.880" fill="#000" stroke="#000" stroke-width="0.08">20 Hz</text>
<text transform="scale(1.0600 1)" x="124.72 131.32 137.92 144.17 154.38 157.15 165.84 172.82 176.63 179.27 184.97 191.58" y="175" font-size="11.880" fill="#000" stroke="#000" stroke-width="0.08">160% Optical</text>
<text transform="scale(1.0600 1)" x="123.72 130.32 136.58 146.79 149.4 156.77 159.42 165.8 172 175.84 180.08 182.72 188.42 195.02" y="187" font-size="11.880" fill="#000" stroke="#000" stroke-width="0.08">20% Electrical</text>
<text transform="scale(1.0600 1)" x="137.52 143.35 146.27" y="256" font-size="10.498" fill="#000" stroke="#000" stroke-width="0.08">0.5</text>
<text transform="scale(1.0600 1)" x="171.29 177.13 180.04" y="256" font-size="10.498" fill="#000" stroke="#000" stroke-width="0.08">1.0</text>
<text transform="scale(1.0600 1)" x="133.56 140.48 143.35 153.24 159.73 163.08 166.81 172.37 178.75 184.62" y="268" font-size="11.880" fill="#000" stroke="#000" stroke-width="0.08">Time (sec)</text>
<polyline points="225.35,239.57 225.71,239.57 226.07,239.57 226.42,239.57 226.78,239.57 227.14,239.57 227.5,239.57 227.86,239.57 228.21,239.57 228.57,239.57 228.93,239.57 229.29,239.57 229.65,239.57 230,239.57 230.36,239.57 230.72,239.57 231.08,239.57 231.44,239.57 231.79,239.57 232.15,239.57 232.51,239.57 232.87,239.57 233.23,239.57 233.58,239.57 233.94,239.57 234.3,241.34 234.37,241.25 234.66,240.95 234.69,240.91 235.02,240.64 235.09,240.59 235.3,240.45 235.37,240.41 235.66,240.26 235.73,240.22 236.09,240.08 236.16,240.05 236.45,239.97 236.81,239.88 237.16,239.81 237.24,239.8 237.52,239.76 237.88,241.48 237.95,241.39 238.24,241.06 238.27,241.02 238.6,240.73 238.67,240.67 238.88,240.52 238.95,240.47 239.24,240.31 239.31,240.28 239.67,240.12 239.74,240.09 240.03,240 240.39,239.9 240.74,239.83 240.82,239.82 241.1,239.77 241.46,241.49 241.53,241.4 241.82,241.07 241.85,241.03 242.18,240.74 242.25,240.68 242.46,240.53 242.53,240.48 242.82,240.32 242.89,240.28 243.25,240.12 243.32,240.1 243.61,240 243.97,239.91 244.32,239.83 244.4,239.82 244.68,239.78 245.04,241.49 245.11,241.4 245.4,241.07 245.43,241.03 245.76,240.74 245.83,240.68 246.04,240.53 246.11,240.48 246.4,240.32 246.47,240.28 246.83,240.12 246.9,240.1 247.19,240 247.55,239.91 247.9,239.83 247.98,239.82 248.26,239.78 248.62,239.73 248.69,239.13 248.98,236.72 249.01,236.42 249.34,233.71 249.41,233.11 249.62,234.96 249.69,235.45 249.98,236.94 250.05,237.22 250.41,238.24 250.48,238.38 250.77,238.81 251.13,239.14 251.48,239.33 251.56,239.36 251.84,239.44 252.2,241.26 252.27,241.19 252.56,240.91 252.59,240.88 252.92,240.62 252.99,240.57 253.2,240.44 253.27,240.4 253.56,240.25 253.63,240.22 253.99,240.08 254.06,240.05 254.35,239.97 254.71,239.88 255.06,239.81 255.14,239.8 255.42,239.76 255.78,241.48 255.85,241.39 256.14,241.06 256.17,241.02 256.5,240.73 256.57,240.67 256.78,240.52 256.85,240.47 257.14,240.31 257.21,240.28 257.57,240.12 257.64,240.09 257.93,240 258.29,239.9 258.64,239.83 258.72,239.82 259,239.77 259.36,239.73 259.43,239.13 259.72,236.72 259.75,236.42 260.08,233.71 260.15,233.11 260.36,234.96 260.43,235.45 260.72,236.94 260.79,237.22 261.15,238.23 261.22,238.38 261.51,238.81 261.87,239.14 262.22,239.33 262.3,239.36 262.58,239.44 262.94,239.5 263.01,238.91 263.3,236.56 263.33,236.26 263.66,233.6 263.73,233 263.94,234.87 264.01,235.36 264.3,236.87 264.37,237.16 264.73,238.19 264.8,238.33 265.09,238.78 265.45,239.12 265.8,239.31 265.88,239.34 266.16,239.42 266.52,239.49 266.59,238.9 266.88,236.55 266.91,236.25 267.24,233.59 267.31,233 267.52,234.86 267.59,235.36 267.88,236.87 267.95,237.15 268.31,238.18 268.38,238.33 268.67,238.78 269.03,239.12 269.38,239.31 269.46,239.34 269.74,239.42 270.1,239.49 270.46,239.52 270.82,239.54 271.17,239.56 271.53,239.56 271.89,239.57 272.25,239.57 272.61,239.57 272.96,239.57 273.32,239.57 273.68,239.57 274.04,239.57 274.4,239.57 274.75,239.57 275.11,239.57 275.47,239.57" fill="none" stroke="#1a1a1a" stroke-width="0.65" stroke-linejoin="round"/>
<path d="M234.3 239.57L234.3 191.59" fill="none" stroke="#262626" stroke-width="0.8"/>
<path d="M234.3 240.57L234.3 205.2" fill="none" stroke="#1a1a1a" stroke-width="0.95"/>
<path d="M237.88 239.57L237.88 195.88" fill="none" stroke="#8a8a8a" stroke-width="0.8"/>
<path d="M237.88 240.57L237.88 227.88" fill="none" stroke="#1a1a1a" stroke-width="0.95"/>
<path d="M241.46 239.57L241.46 195.88" fill="none" stroke="#8a8a8a" stroke-width="0.8"/>
<path d="M241.46 240.57L241.46 232.92" fill="none" stroke="#1a1a1a" stroke-width="0.95"/>
<path d="M245.04 239.57L245.04 195.88" fill="none" stroke="#8a8a8a" stroke-width="0.8"/>
<path d="M245.04 240.57L245.04 232.92" fill="none" stroke="#1a1a1a" stroke-width="0.95"/>
<path d="M252.2 239.57L252.2 198.14" fill="none" stroke="#262626" stroke-width="0.8"/>
<path d="M252.2 240.57L252.2 207.72" fill="none" stroke="#1a1a1a" stroke-width="0.95"/>
<path d="M255.78 239.57L255.78 198.14" fill="none" stroke="#8a8a8a" stroke-width="0.8"/>
<path d="M255.78 240.57L255.78 232.92" fill="none" stroke="#1a1a1a" stroke-width="0.95"/>
<line x1="223.5" y1="190.1" x2="223.5" y2="243" stroke="#9a9a9a" stroke-width="1"/>
<line x1="220.5" y1="243" x2="277.9" y2="243" stroke="#9a9a9a" stroke-width="1"/>
<line x1="220.5" y1="192.6" x2="223.5" y2="192.6" stroke="#b0b0b0" stroke-width="1"/>
<line x1="220.5" y1="205.2" x2="223.5" y2="205.2" stroke="#b0b0b0" stroke-width="1"/>
<line x1="220.5" y1="217.8" x2="223.5" y2="217.8" stroke="#b0b0b0" stroke-width="1"/>
<line x1="220.5" y1="230.4" x2="223.5" y2="230.4" stroke="#b0b0b0" stroke-width="1"/>
<line x1="220.5" y1="243" x2="223.5" y2="243" stroke="#b0b0b0" stroke-width="1"/>
<line x1="233.5" y1="243" x2="233.5" y2="246" stroke="#b0b0b0" stroke-width="1"/>
<line x1="269.3" y1="243" x2="269.3" y2="246" stroke="#b0b0b0" stroke-width="1"/>
<path d="M232.8 191.04h3v1.1h-3zM233.75 190.09h1.1v3h-1.1z" fill="#dc3a44"/>
<path d="M236.38 195.33h3v1.1h-3zM237.33 194.38h1.1v3h-1.1z" fill="#dc3a44"/>
<path d="M239.96 195.33h3v1.1h-3zM240.91 194.38h1.1v3h-1.1z" fill="#dc3a44"/>
<path d="M243.54 195.33h3v1.1h-3zM244.49 194.38h1.1v3h-1.1z" fill="#dc3a44"/>
<path d="M250.7 197.59h3v1.1h-3zM251.65 196.64h1.1v3h-1.1z" fill="#dc3a44"/>
<path d="M254.28 197.59h3v1.1h-3zM255.23 196.64h1.1v3h-1.1z" fill="#dc3a44"/>
<text transform="scale(1.0600 1)" x="221.82 228.42 235.02 237.94 245.88" y="163" font-size="11.880" fill="#000" stroke="#000" stroke-width="0.08">20 Hz</text>
<text transform="scale(1.0600 1)" x="200.19 206.79 213.39 219.65 229.86 232.62 241.31 248.29 252.1 254.75 260.44 267.05" y="175" font-size="11.880" fill="#000" stroke="#000" stroke-width="0.08">160% Optical</text>
<text transform="scale(1.0600 1)" x="199.19 205.8 212.05 222.26 224.88 232.24 234.89 241.27 247.47 251.31 255.55 258.19 263.89 270.5" y="187" font-size="11.880" fill="#000" stroke="#000" stroke-width="0.08">25% Electrical</text>
<text transform="scale(1.0600 1)" x="212.99 218.82 221.74" y="256" font-size="10.498" fill="#000" stroke="#000" stroke-width="0.08">0.5</text>
<text transform="scale(1.0600 1)" x="246.76 252.6 255.51" y="256" font-size="10.498" fill="#000" stroke="#000" stroke-width="0.08">1.0</text>
<text transform="scale(1.0600 1)" x="209.03 215.95 218.82 228.71 235.2 238.55 242.28 247.85 254.23 260.09" y="268" font-size="11.880" fill="#000" stroke="#000" stroke-width="0.08">Time (sec)</text>
<polyline points="305.35,239.57 305.71,239.57 306.07,239.57 306.42,239.57 306.78,239.57 307.14,239.57 307.5,239.57 307.86,239.57 308.21,239.57 308.57,239.57 308.93,239.57 309.29,239.57 309.65,239.57 310,239.57 310.36,239.57 310.72,239.57 311.08,239.57 311.44,239.57 311.79,239.57 312.15,239.57 312.51,239.57 312.87,239.57 313.23,239.57 313.58,239.57 313.94,239.57 314.3,241.34 314.37,241.25 314.66,240.95 314.69,240.91 315.02,240.64 315.09,240.59 315.3,240.45 315.37,240.41 315.66,240.26 315.73,240.22 316.09,240.08 316.16,240.05 316.45,239.97 316.81,239.88 317.16,239.81 317.24,239.8 317.52,239.76 317.88,241.48 317.95,241.39 318.24,241.06 318.27,241.02 318.6,240.73 318.67,240.67 318.88,240.52 318.95,240.47 319.24,240.31 319.31,240.28 319.67,240.12 319.74,240.09 320.03,240 320.39,239.9 320.74,239.83 320.82,239.82 321.1,239.77 321.46,241.49 321.53,241.4 321.82,241.07 321.85,241.03 322.18,240.74 322.25,240.68 322.46,240.53 322.53,240.48 322.82,240.32 322.89,240.28 323.25,240.12 323.32,240.1 323.61,240 323.97,239.91 324.32,239.83 324.4,239.82 324.68,239.78 325.04,241.49 325.11,241.4 325.4,241.07 325.43,241.03 325.76,240.74 325.83,240.68 326.04,240.53 326.11,240.48 326.4,240.32 326.47,240.28 326.83,240.12 326.9,240.1 327.19,240 327.55,239.91 327.9,239.83 327.98,239.82 328.26,239.78 328.62,241.49 328.69,241.4 328.98,241.07 329.01,241.03 329.34,240.74 329.41,240.68 329.62,240.53 329.69,240.48 329.98,240.32 330.05,240.28 330.41,240.12 330.48,240.1 330.77,240 331.13,239.91 331.48,239.83 331.56,239.82 331.84,239.78 332.2,241.49 332.27,241.4 332.56,241.07 332.59,241.03 332.92,240.74 332.99,240.68 333.2,240.53 333.27,240.48 333.56,240.32 333.63,240.28 333.99,240.12 334.06,240.1 334.35,240 334.71,239.91 335.06,239.83 335.14,239.82 335.42,239.78 335.78,241.49 335.85,241.4 336.14,241.07 336.17,241.03 336.5,240.74 336.57,240.68 336.78,240.53 336.85,240.48 337.14,240.32 337.21,240.28 337.57,240.12 337.64,240.1 337.93,240 338.29,239.91 338.64,239.83 338.72,239.82 339,239.78 339.36,239.73 339.43,241.4 339.72,241.07 339.75,241.03 340.08,240.74 340.15,240.68 340.36,240.53 340.43,240.48 340.72,240.32 340.79,240.28 341.15,240.12 341.22,240.1 341.51,240 341.87,239.91 342.22,239.83 342.3,239.82 342.58,239.78 342.94,241.49 343.01,241.4 343.3,241.07 343.33,241.03 343.66,240.74 343.73,240.68 343.94,240.53 344.01,240.48 344.3,240.32 344.37,240.28 344.73,240.12 344.8,240.1 345.09,240 345.45,239.91 345.8,239.83 345.88,239.82 346.16,239.78 346.52,241.49 346.59,241.4 346.88,241.07 346.91,241.03 347.24,240.74 347.31,240.68 347.52,240.53 347.59,240.48 347.88,240.32 347.95,240.28 348.31,240.12 348.38,240.1 348.67,240 349.03,239.91 349.38,239.83 349.46,239.82 349.74,239.78 350.1,239.73 350.46,239.7 350.82,239.67 351.17,239.65 351.53,239.63 351.89,239.62 352.25,239.61 352.61,239.6 352.96,239.59 353.32,239.59 353.68,239.59 354.04,239.58 354.4,239.58 354.75,239.58 355.11,239.58 355.47,239.58" fill="none" stroke="#1a1a1a" stroke-width="0.65" stroke-linejoin="round"/>
<path d="M314.3 239.57L314.3 191.59" fill="none" stroke="#8a8a8a" stroke-width="0.8"/>
<path d="M314.3 240.57L314.3 230.4" fill="none" stroke="#1a1a1a" stroke-width="0.95"/>
<path d="M317.88 239.57L317.88 195.12" fill="none" stroke="#262626" stroke-width="0.8"/>
<path d="M317.88 240.57L317.88 227.88" fill="none" stroke="#1a1a1a" stroke-width="0.95"/>
<path d="M321.46 239.57L321.46 195.12" fill="none" stroke="#262626" stroke-width="0.8"/>
<path d="M321.46 240.57L321.46 232.92" fill="none" stroke="#1a1a1a" stroke-width="0.95"/>
<path d="M325.04 239.57L325.04 196.13" fill="none" stroke="#8a8a8a" stroke-width="0.8"/>
<path d="M325.04 240.57L325.04 232.92" fill="none" stroke="#1a1a1a" stroke-width="0.95"/>
<path d="M328.62 239.57L328.62 196.13" fill="none" stroke="#262626" stroke-width="0.8"/>
<path d="M328.62 240.57L328.62 227.88" fill="none" stroke="#1a1a1a" stroke-width="0.95"/>
<path d="M332.2 239.57L332.2 195.12" fill="none" stroke="#262626" stroke-width="0.8"/>
<path d="M332.2 240.57L332.2 232.92" fill="none" stroke="#1a1a1a" stroke-width="0.95"/>
<path d="M335.78 239.57L335.78 194.62" fill="none" stroke="#8a8a8a" stroke-width="0.8"/>
<path d="M335.78 240.57L335.78 235.44" fill="none" stroke="#1a1a1a" stroke-width="0.95"/>
<path d="M339.36 239.57L339.36 194.62" fill="none" stroke="#262626" stroke-width="0.8"/>
<path d="M339.36 240.57L339.36 210.24" fill="none" stroke="#1a1a1a" stroke-width="0.95"/>
<path d="M342.94 239.57L342.94 195.12" fill="none" stroke="#262626" stroke-width="0.8"/>
<path d="M342.94 240.57L342.94 232.92" fill="none" stroke="#1a1a1a" stroke-width="0.95"/>
<path d="M346.52 239.57L346.52 195.12" fill="none" stroke="#262626" stroke-width="0.8"/>
<path d="M346.52 240.57L346.52 222.84" fill="none" stroke="#1a1a1a" stroke-width="0.95"/>
<line x1="303.5" y1="190.1" x2="303.5" y2="243" stroke="#9a9a9a" stroke-width="1"/>
<line x1="300.5" y1="243" x2="357.9" y2="243" stroke="#9a9a9a" stroke-width="1"/>
<line x1="300.5" y1="192.6" x2="303.5" y2="192.6" stroke="#b0b0b0" stroke-width="1"/>
<line x1="300.5" y1="205.2" x2="303.5" y2="205.2" stroke="#b0b0b0" stroke-width="1"/>
<line x1="300.5" y1="217.8" x2="303.5" y2="217.8" stroke="#b0b0b0" stroke-width="1"/>
<line x1="300.5" y1="230.4" x2="303.5" y2="230.4" stroke="#b0b0b0" stroke-width="1"/>
<line x1="300.5" y1="243" x2="303.5" y2="243" stroke="#b0b0b0" stroke-width="1"/>
<line x1="313.5" y1="243" x2="313.5" y2="246" stroke="#b0b0b0" stroke-width="1"/>
<line x1="349.3" y1="243" x2="349.3" y2="246" stroke="#b0b0b0" stroke-width="1"/>
<path d="M312.8 191.04h3v1.1h-3zM313.75 190.09h1.1v3h-1.1z" fill="#dc3a44"/>
<path d="M316.38 194.57h3v1.1h-3zM317.33 193.62h1.1v3h-1.1z" fill="#dc3a44"/>
<path d="M319.96 194.57h3v1.1h-3zM320.91 193.62h1.1v3h-1.1z" fill="#dc3a44"/>
<path d="M323.54 195.58h3v1.1h-3zM324.49 194.63h1.1v3h-1.1z" fill="#dc3a44"/>
<path d="M327.12 195.58h3v1.1h-3zM328.07 194.63h1.1v3h-1.1z" fill="#dc3a44"/>
<path d="M330.7 194.57h3v1.1h-3zM331.65 193.62h1.1v3h-1.1z" fill="#dc3a44"/>
<path d="M334.28 194.07h3v1.1h-3zM335.23 193.12h1.1v3h-1.1z" fill="#dc3a44"/>
<path d="M337.86 194.07h3v1.1h-3zM338.81 193.12h1.1v3h-1.1z" fill="#dc3a44"/>
<path d="M341.44 194.57h3v1.1h-3zM342.39 193.62h1.1v3h-1.1z" fill="#dc3a44"/>
<path d="M345.02 194.57h3v1.1h-3zM345.97 193.62h1.1v3h-1.1z" fill="#dc3a44"/>
<text transform="scale(1.0600 1)" x="297.29 303.89 310.5 313.41 321.35" y="163" font-size="11.880" fill="#000" stroke="#000" stroke-width="0.08">20 Hz</text>
<text transform="scale(1.0600 1)" x="275.66 282.26 288.86 295.12 305.33 308.09 316.79 323.77 327.57 330.22 335.92 342.52" y="175" font-size="11.880" fill="#000" stroke="#000" stroke-width="0.08">160% Optical</text>
<text transform="scale(1.0600 1)" x="274.67 281.27 287.52 297.73 300.35 307.71 310.36 316.74 322.95 326.79 331.02 333.66 339.36 345.97" y="187" font-size="11.880" fill="#000" stroke="#000" stroke-width="0.08">30% Electrical</text>
<text transform="scale(1.0600 1)" x="288.46 294.3 297.21" y="256" font-size="10.498" fill="#000" stroke="#000" stroke-width="0.08">0.5</text>
<text transform="scale(1.0600 1)" x="322.23 328.07 330.98" y="256" font-size="10.498" fill="#000" stroke="#000" stroke-width="0.08">1.0</text>
<text transform="scale(1.0600 1)" x="284.5 291.42 294.29 304.18 310.67 314.02 317.76 323.32 329.7 335.57" y="268" font-size="11.880" fill="#000" stroke="#000" stroke-width="0.08">Time (sec)</text>
<polyline points="98.2,332.5 165.2,327.06 232,327.06 299,305.3" fill="none" stroke="#ec1c24" stroke-width="1.35" stroke-linejoin="round"/>
<path d="M94.9 329.55L101.5 329.55L98.2 335.45Z" fill="#ec1c24"/>
<path d="M161.9 324.11L168.5 324.11L165.2 330.01Z" fill="#ec1c24"/>
<path d="M228.7 324.11L235.3 324.11L232 330.01Z" fill="#ec1c24"/>
<path d="M295.7 302.35L302.3 302.35L299 308.25Z" fill="#ec1c24"/>
<polyline points="98.2,386.9 165.2,337.94 232,332.5 299,332.5" fill="none" stroke="#858585" stroke-width="1.25" stroke-linejoin="round"/>
<path d="M95 383.7L101.4 390.1M95 390.1L101.4 383.7" stroke="#858585" stroke-width="1.1"/>
<path d="M162 334.74L168.4 341.14M162 341.14L168.4 334.74" stroke="#858585" stroke-width="1.1"/>
<path d="M228.8 329.3L235.2 335.7M228.8 335.7L235.2 329.3" stroke="#858585" stroke-width="1.1"/>
<path d="M295.8 329.3L302.2 335.7M295.8 335.7L302.2 329.3" stroke="#858585" stroke-width="1.1"/>
<polyline points="98.2,376.02 165.2,359.7 232,337.94 299,321.62" fill="none" stroke="#1c1c1c" stroke-width="1.35" stroke-linejoin="round"/>
<circle cx="98.2" cy="376.02" r="3.1" fill="#1c1c1c"/>
<circle cx="165.2" cy="359.7" r="3.1" fill="#1c1c1c"/>
<circle cx="232" cy="337.94" r="3.1" fill="#1c1c1c"/>
<circle cx="299" cy="321.62" r="3.1" fill="#1c1c1c"/>
<line x1="64.5" y1="302.4" x2="64.5" y2="389.5" stroke="#9a9a9a" stroke-width="1"/>
<line x1="64.5" y1="389.5" x2="365.6" y2="389.5" stroke="#9a9a9a" stroke-width="1"/>
<line x1="62" y1="386.9" x2="64.5" y2="386.9" stroke="#b0b0b0" stroke-width="1"/>
<line x1="62" y1="359.7" x2="64.5" y2="359.7" stroke="#b0b0b0" stroke-width="1"/>
<line x1="62" y1="332.5" x2="64.5" y2="332.5" stroke="#b0b0b0" stroke-width="1"/>
<line x1="62" y1="305.3" x2="64.5" y2="305.3" stroke="#b0b0b0" stroke-width="1"/>
<line x1="98.2" y1="389.5" x2="98.2" y2="392.2" stroke="#b0b0b0" stroke-width="1"/>
<line x1="165.2" y1="389.5" x2="165.2" y2="392.2" stroke="#b0b0b0" stroke-width="1"/>
<line x1="232" y1="389.5" x2="232" y2="392.2" stroke="#b0b0b0" stroke-width="1"/>
<line x1="299" y1="389.5" x2="299" y2="392.2" stroke="#b0b0b0" stroke-width="1"/>
<text transform="scale(1.0600 1)" x="50.44" y="391" font-size="10.498" fill="#000" stroke="#000" stroke-width="0.08">0</text>
<text transform="scale(1.0600 1)" x="44.6 50.44" y="364" font-size="10.498" fill="#000" stroke="#000" stroke-width="0.08">50</text>
<text transform="scale(1.0600 1)" x="38.77 44.6 50.44" y="336" font-size="10.498" fill="#000" stroke="#000" stroke-width="0.08">100</text>
<text transform="scale(1.0600 1)" x="38.77 44.6 50.44" y="309" font-size="10.498" fill="#000" stroke="#000" stroke-width="0.08">150</text>
<text transform="scale(1.0600 1)" x="86.81 92.64" y="402" font-size="10.498" fill="#000" stroke="#000" stroke-width="0.08">10</text>
<text transform="scale(1.0600 1)" x="150.01 155.85" y="402" font-size="10.498" fill="#000" stroke="#000" stroke-width="0.08">20</text>
<text transform="scale(1.0600 1)" x="213.03 218.87" y="402" font-size="10.498" fill="#000" stroke="#000" stroke-width="0.08">33</text>
<text transform="scale(1.0600 1)" x="276.24 282.07" y="402" font-size="10.498" fill="#000" stroke="#000" stroke-width="0.08">50</text>
<text transform="scale(1.0600 1)" x="162.57 169.33 173.33 179.82 186.4 192.88 199.36 205.84 211.76 217.8 221.15 224.76 232.71 238.45" y="414" font-size="11.880" fill="#000" stroke="#000" stroke-width="0.08">Frequency (Hz)</text>
<text transform="rotate(-90) scale(1.06 1)" x="-374.48 -367.12 -364.47 -358.09 -351.88 -348.04 -343.81 -341.17 -335.47 -328.86 -326.1 -323.47 -315.83 -312.03 -309.16 -299.17 -292.46 -289.71 -283.38" y="24.8" font-size="11.880" fill="#000" stroke="#000" stroke-width="0.08">Electrical Stimulus</text>
<text transform="rotate(-90) scale(1.06 1)" x="-361.74 -358.08 -347.87 -344.19 -340.52 -333.77 -329.77 -323.29 -316.97 -311.42 -304.82 -302.07 -295.43" y="35.2" font-size="11.880" fill="#000" stroke="#000" stroke-width="0.08">(% threhsold)</text>
<line x1="259.2" y1="349.9" x2="278.2" y2="349.9" stroke="#1c1c1c" stroke-width="1.35"/>
<circle cx="268.6" cy="349.9" r="3.1" fill="#1c1c1c"/>
<line x1="259.2" y1="363.15" x2="278.2" y2="363.15" stroke="#858585" stroke-width="1.35"/>
<path d="M265.4 359.95L271.8 366.35M265.4 366.35L271.8 359.95" stroke="#858585" stroke-width="1.1"/>
<line x1="259.2" y1="376.4" x2="278.2" y2="376.4" stroke="#ec1c24" stroke-width="1.35"/>
<path d="M265.3 373.45L271.9 373.45L268.6 379.35Z" fill="#ec1c24"/>
<text transform="scale(1.0600 1)" x="268.28 275.48 278.25 282.46 288.75 291.48 296.94 302.41 307.58 316.07 319.38 322.83 329.3 331.46" y="353" font-size="9.828" fill="#000" stroke="#000" stroke-width="0.08">O (≥ 100%) + E</text>
<text transform="scale(1.0600 1)" x="268.28 275.48 278.25 282.29 288.75 291.48 296.94 302.41 307.58 316.07 319.38 322.83 329.3 331.46" y="366" font-size="9.828" fill="#000" stroke="#000" stroke-width="0.08">O (&lt; 100%) + E</text>
<text transform="scale(1.0600 1)" x="268.02 274.01 276.29 283.48 289.04 291.4" y="379" font-size="9.828" fill="#000" stroke="#000" stroke-width="0.08">E Only</text>
<line x1="419.3" y1="66.05" x2="419.3" y2="40.02" stroke="#cfcfcf" stroke-width="1"/>
<line x1="419.3" y1="78.34" x2="419.3" y2="60.99" stroke="#b8b8b8" stroke-width="1"/>
<line x1="430.73" y1="63.88" x2="430.73" y2="34.96" stroke="#cfcfcf" stroke-width="1"/>
<line x1="430.73" y1="79.06" x2="430.73" y2="63.16" stroke="#b8b8b8" stroke-width="1"/>
<line x1="442.16" y1="61.71" x2="442.16" y2="42.91" stroke="#cfcfcf" stroke-width="1"/>
<line x1="442.16" y1="66.77" x2="442.16" y2="49.42" stroke="#b8b8b8" stroke-width="1"/>
<line x1="453.59" y1="41.47" x2="453.59" y2="27.01" stroke="#cfcfcf" stroke-width="1"/>
<line x1="453.59" y1="66.77" x2="453.59" y2="47.97" stroke="#b8b8b8" stroke-width="1"/>
<line x1="465.02" y1="45.8" x2="465.02" y2="28.45" stroke="#cfcfcf" stroke-width="1"/>
<line x1="465.02" y1="62.43" x2="465.02" y2="43.64" stroke="#b8b8b8" stroke-width="1"/>
<line x1="476.45" y1="47.25" x2="476.45" y2="29.9" stroke="#cfcfcf" stroke-width="1"/>
<line x1="476.45" y1="45.8" x2="476.45" y2="28.45" stroke="#b8b8b8" stroke-width="1"/>
<line x1="487.88" y1="54.48" x2="487.88" y2="35.68" stroke="#cfcfcf" stroke-width="1"/>
<line x1="487.88" y1="40.02" x2="487.88" y2="25.56" stroke="#b8b8b8" stroke-width="1"/>
<line x1="499.31" y1="56.65" x2="499.31" y2="36.41" stroke="#cfcfcf" stroke-width="1"/>
<line x1="499.31" y1="43.64" x2="499.31" y2="26.28" stroke="#b8b8b8" stroke-width="1"/>
<line x1="510.74" y1="36.41" x2="510.74" y2="21.95" stroke="#cfcfcf" stroke-width="1"/>
<line x1="510.74" y1="34.24" x2="510.74" y2="22.67" stroke="#b8b8b8" stroke-width="1"/>
<line x1="510.74" y1="89.91" x2="510.74" y2="79.79" stroke="#f5a3a3" stroke-width="1"/>
<line x1="522.17" y1="22.67" x2="522.17" y2="19.78" stroke="#cfcfcf" stroke-width="1"/>
<line x1="522.17" y1="22.67" x2="522.17" y2="19.78" stroke="#b8b8b8" stroke-width="1"/>
<line x1="522.17" y1="84.12" x2="522.17" y2="66.77" stroke="#f5a3a3" stroke-width="1"/>
<line x1="533.6" y1="69.66" x2="533.6" y2="49.42" stroke="#f5a3a3" stroke-width="1"/>
<line x1="545.03" y1="34.24" x2="545.03" y2="24.12" stroke="#f5a3a3" stroke-width="1"/>
<polyline points="419.3,53.03 430.73,49.42 442.16,52.31 453.59,34.24 465.02,37.13 476.45,38.58 487.88,45.08 499.31,46.53 510.74,29.18 522.17,21.22 533.6,20.5 545.03,20.5 556.46,20.5" fill="none" stroke="#888888" stroke-width="1.2" stroke-linejoin="round"/>
<rect x="417.4" y="51.13" width="3.8" height="3.8" fill="#888888"/>
<rect x="428.83" y="47.52" width="3.8" height="3.8" fill="#888888"/>
<rect x="440.26" y="50.41" width="3.8" height="3.8" fill="#888888"/>
<rect x="451.69" y="32.34" width="3.8" height="3.8" fill="#888888"/>
<rect x="463.12" y="35.23" width="3.8" height="3.8" fill="#888888"/>
<rect x="474.55" y="36.68" width="3.8" height="3.8" fill="#888888"/>
<rect x="485.98" y="43.18" width="3.8" height="3.8" fill="#888888"/>
<rect x="497.41" y="44.63" width="3.8" height="3.8" fill="#888888"/>
<rect x="508.84" y="27.28" width="3.8" height="3.8" fill="#888888"/>
<rect x="520.27" y="19.32" width="3.8" height="3.8" fill="#888888"/>
<rect x="531.7" y="18.6" width="3.8" height="3.8" fill="#888888"/>
<rect x="543.13" y="18.6" width="3.8" height="3.8" fill="#888888"/>
<rect x="554.56" y="18.6" width="3.8" height="3.8" fill="#888888"/>
<polyline points="419.3,69.66 430.73,71.11 442.16,58.1 453.59,57.37 465.02,53.03 476.45,37.13 487.88,32.79 499.31,34.96 510.74,28.45 522.17,21.22 533.6,20.5 545.03,20.5 556.46,20.5" fill="none" stroke="#222222" stroke-width="1.2" stroke-linejoin="round"/>
<circle cx="419.3" cy="69.66" r="2.0" fill="#222222"/>
<circle cx="430.73" cy="71.11" r="2.0" fill="#222222"/>
<circle cx="442.16" cy="58.1" r="2.0" fill="#222222"/>
<circle cx="453.59" cy="57.37" r="2.0" fill="#222222"/>
<circle cx="465.02" cy="53.03" r="2.0" fill="#222222"/>
<circle cx="476.45" cy="37.13" r="2.0" fill="#222222"/>
<circle cx="487.88" cy="32.79" r="2.0" fill="#222222"/>
<circle cx="499.31" cy="34.96" r="2.0" fill="#222222"/>
<circle cx="510.74" cy="28.45" r="2.0" fill="#222222"/>
<circle cx="522.17" cy="21.22" r="2.0" fill="#222222"/>
<circle cx="533.6" cy="20.5" r="2.0" fill="#222222"/>
<circle cx="545.03" cy="20.5" r="2.0" fill="#222222"/>
<circle cx="556.46" cy="20.5" r="2.0" fill="#222222"/>
<polyline points="419.3,92.8 430.73,92.8 442.16,92.8 453.59,92.8 465.02,92.8 476.45,92.8 487.88,92.8 499.31,92.8 510.74,84.85 522.17,75.45 533.6,59.54 545.03,29.18 556.46,20.5" fill="none" stroke="#ec1c24" stroke-width="1.2" stroke-linejoin="round"/>
<path d="M417.2 90.9L421.4 90.9L419.3 94.7Z" fill="#ec1c24"/>
<path d="M428.63 90.9L432.83 90.9L430.73 94.7Z" fill="#ec1c24"/>
<path d="M440.06 90.9L444.26 90.9L442.16 94.7Z" fill="#ec1c24"/>
<path d="M451.49 90.9L455.69 90.9L453.59 94.7Z" fill="#ec1c24"/>
<path d="M462.92 90.9L467.12 90.9L465.02 94.7Z" fill="#ec1c24"/>
<path d="M474.35 90.9L478.55 90.9L476.45 94.7Z" fill="#ec1c24"/>
<path d="M485.78 90.9L489.98 90.9L487.88 94.7Z" fill="#ec1c24"/>
<path d="M497.21 90.9L501.41 90.9L499.31 94.7Z" fill="#ec1c24"/>
<path d="M508.64 82.95L512.84 82.95L510.74 86.75Z" fill="#ec1c24"/>
<path d="M520.07 73.55L524.27 73.55L522.17 77.35Z" fill="#ec1c24"/>
<path d="M531.5 57.64L535.7 57.64L533.6 61.44Z" fill="#ec1c24"/>
<path d="M542.93 27.28L547.13 27.28L545.03 31.08Z" fill="#ec1c24"/>
<path d="M554.36 18.6L558.56 18.6L556.46 22.4Z" fill="#ec1c24"/>
<line x1="413.5" y1="14" x2="413.5" y2="100.5" stroke="#c0c0c0" stroke-width="1"/>
<line x1="413.5" y1="100.5" x2="562.2" y2="100.5" stroke="#c0c0c0" stroke-width="1"/>
<line x1="411.5" y1="92.8" x2="413.5" y2="92.8" stroke="#c8c8c8" stroke-width="0.9"/>
<text transform="scale(1.0600 1)" x="373.62 377.76 379.83 383.97" y="96" font-size="7.452" fill="#000" stroke="#000" stroke-width="0.16">0.00</text>
<line x1="411.5" y1="74.72" x2="413.5" y2="74.72" stroke="#c8c8c8" stroke-width="0.9"/>
<text transform="scale(1.0600 1)" x="373.62 377.76 379.83 383.97" y="78" font-size="7.452" fill="#000" stroke="#000" stroke-width="0.16">0.25</text>
<line x1="411.5" y1="56.65" x2="413.5" y2="56.65" stroke="#c8c8c8" stroke-width="0.9"/>
<text transform="scale(1.0600 1)" x="373.62 377.76 379.83 383.97" y="60" font-size="7.452" fill="#000" stroke="#000" stroke-width="0.16">0.50</text>
<line x1="411.5" y1="38.58" x2="413.5" y2="38.58" stroke="#c8c8c8" stroke-width="0.9"/>
<text transform="scale(1.0600 1)" x="373.62 377.76 379.83 383.97" y="42" font-size="7.452" fill="#000" stroke="#000" stroke-width="0.16">0.75</text>
<line x1="411.5" y1="20.5" x2="413.5" y2="20.5" stroke="#c8c8c8" stroke-width="0.9"/>
<text transform="scale(1.0600 1)" x="373.62 377.76 379.83 383.97" y="24" font-size="7.452" fill="#000" stroke="#000" stroke-width="0.16">1.00</text>
<line x1="419.3" y1="100.5" x2="419.3" y2="102.5" stroke="#c8c8c8" stroke-width="0.9"/>
<line x1="430.73" y1="100.5" x2="430.73" y2="102.5" stroke="#c8c8c8" stroke-width="0.9"/>
<line x1="442.16" y1="100.5" x2="442.16" y2="102.5" stroke="#c8c8c8" stroke-width="0.9"/>
<line x1="453.59" y1="100.5" x2="453.59" y2="102.5" stroke="#c8c8c8" stroke-width="0.9"/>
<line x1="465.02" y1="100.5" x2="465.02" y2="102.5" stroke="#c8c8c8" stroke-width="0.9"/>
<line x1="476.45" y1="100.5" x2="476.45" y2="102.5" stroke="#c8c8c8" stroke-width="0.9"/>
<line x1="487.88" y1="100.5" x2="487.88" y2="102.5" stroke="#c8c8c8" stroke-width="0.9"/>
<line x1="499.31" y1="100.5" x2="499.31" y2="102.5" stroke="#c8c8c8" stroke-width="0.9"/>
<line x1="510.74" y1="100.5" x2="510.74" y2="102.5" stroke="#c8c8c8" stroke-width="0.9"/>
<line x1="522.17" y1="100.5" x2="522.17" y2="102.5" stroke="#c8c8c8" stroke-width="0.9"/>
<line x1="533.6" y1="100.5" x2="533.6" y2="102.5" stroke="#c8c8c8" stroke-width="0.9"/>
<line x1="545.03" y1="100.5" x2="545.03" y2="102.5" stroke="#c8c8c8" stroke-width="0.9"/>
<line x1="556.46" y1="100.5" x2="556.46" y2="102.5" stroke="#c8c8c8" stroke-width="0.9"/>
<text transform="scale(1.0600 1)" x="450.2 454.82 459.44 461.48 467.04" y="12" font-size="8.316" fill="#000" stroke="#000" stroke-width="0.16">10 Hz</text>
<text transform="rotate(-90) scale(1.06 1)" x="-84.65 -79.93 -77.89 -74.93 -73.01 -68.4 -63.78 -61.48 -56.75 -53.97 -49.44 -44.91 -40.38 -35.67 -33.65 -31.64 -29.43 -26.78" y="385.5" font-size="8.316" fill="#000" stroke="#000" stroke-width="0.16">Firing probability</text>
<text transform="rotate(-90) scale(1.06 1)" x="-81.04 -78.53 -73.85 -69.07 -65.1 -62.8 -58.26 -53.61 -50.73 -48.43 -43.82 -39.12 -37.37 -33.48 -28.9" y="393.8" font-size="8.316" fill="#000" stroke="#000" stroke-width="0.16">(APs per pulse)</text>
<line x1="419.3" y1="183.35" x2="419.3" y2="168.89" stroke="#cfcfcf" stroke-width="1"/>
<line x1="419.3" y1="181.18" x2="419.3" y2="142.14" stroke="#b8b8b8" stroke-width="1"/>
<line x1="430.73" y1="183.35" x2="430.73" y2="166" stroke="#cfcfcf" stroke-width="1"/>
<line x1="430.73" y1="182.62" x2="430.73" y2="114.66" stroke="#b8b8b8" stroke-width="1"/>
<line x1="442.16" y1="179.01" x2="442.16" y2="168.89" stroke="#cfcfcf" stroke-width="1"/>
<line x1="442.16" y1="184.07" x2="442.16" y2="178.29" stroke="#b8b8b8" stroke-width="1"/>
<line x1="453.59" y1="170.33" x2="453.59" y2="155.87" stroke="#cfcfcf" stroke-width="1"/>
<line x1="453.59" y1="176.12" x2="453.59" y2="161.66" stroke="#b8b8b8" stroke-width="1"/>
<line x1="453.59" y1="188.41" x2="453.59" y2="184.07" stroke="#f5a3a3" stroke-width="1"/>
<line x1="465.02" y1="169.61" x2="465.02" y2="152.26" stroke="#cfcfcf" stroke-width="1"/>
<line x1="465.02" y1="173.95" x2="465.02" y2="156.6" stroke="#b8b8b8" stroke-width="1"/>
<line x1="476.45" y1="169.61" x2="476.45" y2="152.26" stroke="#cfcfcf" stroke-width="1"/>
<line x1="476.45" y1="164.55" x2="476.45" y2="147.2" stroke="#b8b8b8" stroke-width="1"/>
<line x1="487.88" y1="177.56" x2="487.88" y2="160.21" stroke="#cfcfcf" stroke-width="1"/>
<line x1="487.88" y1="155.87" x2="487.88" y2="141.41" stroke="#b8b8b8" stroke-width="1"/>
<line x1="487.88" y1="189.49" x2="487.88" y2="186.6" stroke="#f5a3a3" stroke-width="1"/>
<line x1="499.31" y1="172.5" x2="499.31" y2="153.7" stroke="#cfcfcf" stroke-width="1"/>
<line x1="499.31" y1="157.32" x2="499.31" y2="135.63" stroke="#b8b8b8" stroke-width="1"/>
<line x1="499.31" y1="183.35" x2="499.31" y2="168.89" stroke="#f5a3a3" stroke-width="1"/>
<line x1="510.74" y1="171.78" x2="510.74" y2="150.09" stroke="#cfcfcf" stroke-width="1"/>
<line x1="510.74" y1="142.14" x2="510.74" y2="127.68" stroke="#b8b8b8" stroke-width="1"/>
<line x1="510.74" y1="178.29" x2="510.74" y2="159.49" stroke="#f5a3a3" stroke-width="1"/>
<line x1="522.17" y1="173.23" x2="522.17" y2="151.54" stroke="#cfcfcf" stroke-width="1"/>
<line x1="522.17" y1="126.23" x2="522.17" y2="119" stroke="#b8b8b8" stroke-width="1"/>
<line x1="522.17" y1="181.18" x2="522.17" y2="166.72" stroke="#f5a3a3" stroke-width="1"/>
<line x1="533.6" y1="155.15" x2="533.6" y2="137.8" stroke="#cfcfcf" stroke-width="1"/>
<line x1="533.6" y1="160.21" x2="533.6" y2="145.75" stroke="#f5a3a3" stroke-width="1"/>
<line x1="545.03" y1="150.09" x2="545.03" y2="135.63" stroke="#cfcfcf" stroke-width="1"/>
<line x1="545.03" y1="151.54" x2="545.03" y2="137.08" stroke="#f5a3a3" stroke-width="1"/>
<line x1="556.46" y1="145.03" x2="556.46" y2="130.57" stroke="#cfcfcf" stroke-width="1"/>
<line x1="556.46" y1="146.47" x2="556.46" y2="129.12" stroke="#f5a3a3" stroke-width="1"/>
<polyline points="419.3,176.12 430.73,174.67 442.16,173.95 453.59,163.1 465.02,160.93 476.45,160.93 487.88,168.89 499.31,163.1 510.74,160.93 522.17,162.38 533.6,146.47 545.03,142.86 556.46,137.8" fill="none" stroke="#888888" stroke-width="1.2" stroke-linejoin="round"/>
<rect x="417.4" y="174.22" width="3.8" height="3.8" fill="#888888"/>
<rect x="428.83" y="172.77" width="3.8" height="3.8" fill="#888888"/>
<rect x="440.26" y="172.05" width="3.8" height="3.8" fill="#888888"/>
<rect x="451.69" y="161.2" width="3.8" height="3.8" fill="#888888"/>
<rect x="463.12" y="159.03" width="3.8" height="3.8" fill="#888888"/>
<rect x="474.55" y="159.03" width="3.8" height="3.8" fill="#888888"/>
<rect x="485.98" y="166.99" width="3.8" height="3.8" fill="#888888"/>
<rect x="497.41" y="161.2" width="3.8" height="3.8" fill="#888888"/>
<rect x="508.84" y="159.03" width="3.8" height="3.8" fill="#888888"/>
<rect x="520.27" y="160.48" width="3.8" height="3.8" fill="#888888"/>
<rect x="531.7" y="144.57" width="3.8" height="3.8" fill="#888888"/>
<rect x="543.13" y="140.96" width="3.8" height="3.8" fill="#888888"/>
<rect x="554.56" y="135.9" width="3.8" height="3.8" fill="#888888"/>
<polyline points="419.3,161.66 430.73,148.64 442.16,181.18 453.59,168.89 465.02,165.27 476.45,155.87 487.88,148.64 499.31,146.47 510.74,134.91 522.17,122.62 533.6,119 545.03,119 556.46,119" fill="none" stroke="#222222" stroke-width="1.2" stroke-linejoin="round"/>
<circle cx="419.3" cy="161.66" r="2.0" fill="#222222"/>
<circle cx="430.73" cy="148.64" r="2.0" fill="#222222"/>
<circle cx="442.16" cy="181.18" r="2.0" fill="#222222"/>
<circle cx="453.59" cy="168.89" r="2.0" fill="#222222"/>
<circle cx="465.02" cy="165.27" r="2.0" fill="#222222"/>
<circle cx="476.45" cy="155.87" r="2.0" fill="#222222"/>
<circle cx="487.88" cy="148.64" r="2.0" fill="#222222"/>
<circle cx="499.31" cy="146.47" r="2.0" fill="#222222"/>
<circle cx="510.74" cy="134.91" r="2.0" fill="#222222"/>
<circle cx="522.17" cy="122.62" r="2.0" fill="#222222"/>
<circle cx="533.6" cy="119" r="2.0" fill="#222222"/>
<circle cx="545.03" cy="119" r="2.0" fill="#222222"/>
<circle cx="556.46" cy="119" r="2.0" fill="#222222"/>
<polyline points="419.3,190.58 430.73,190.58 442.16,190.58 453.59,186.24 465.02,189.85 476.45,189.85 487.88,188.05 499.31,176.12 510.74,168.89 522.17,173.95 533.6,152.98 545.03,144.31 556.46,137.8" fill="none" stroke="#ec1c24" stroke-width="1.2" stroke-linejoin="round"/>
<path d="M417.2 188.68L421.4 188.68L419.3 192.48Z" fill="#ec1c24"/>
<path d="M428.63 188.68L432.83 188.68L430.73 192.48Z" fill="#ec1c24"/>
<path d="M440.06 188.68L444.26 188.68L442.16 192.48Z" fill="#ec1c24"/>
<path d="M451.49 184.34L455.69 184.34L453.59 188.14Z" fill="#ec1c24"/>
<path d="M462.92 187.95L467.12 187.95L465.02 191.75Z" fill="#ec1c24"/>
<path d="M474.35 187.95L478.55 187.95L476.45 191.75Z" fill="#ec1c24"/>
<path d="M485.78 186.15L489.98 186.15L487.88 189.95Z" fill="#ec1c24"/>
<path d="M497.21 174.22L501.41 174.22L499.31 178.02Z" fill="#ec1c24"/>
<path d="M508.64 166.99L512.84 166.99L510.74 170.79Z" fill="#ec1c24"/>
<path d="M520.07 172.05L524.27 172.05L522.17 175.85Z" fill="#ec1c24"/>
<path d="M531.5 151.08L535.7 151.08L533.6 154.88Z" fill="#ec1c24"/>
<path d="M542.93 142.41L547.13 142.41L545.03 146.21Z" fill="#ec1c24"/>
<path d="M554.36 135.9L558.56 135.9L556.46 139.7Z" fill="#ec1c24"/>
<line x1="413.5" y1="112.5" x2="413.5" y2="198.5" stroke="#c0c0c0" stroke-width="1"/>
<line x1="413.5" y1="198.5" x2="562.2" y2="198.5" stroke="#c0c0c0" stroke-width="1"/>
<line x1="411.5" y1="191.3" x2="413.5" y2="191.3" stroke="#c8c8c8" stroke-width="0.9"/>
<text transform="scale(1.0600 1)" x="373.62 377.76 379.83 383.97" y="194" font-size="7.452" fill="#000" stroke="#000" stroke-width="0.16">0.00</text>
<line x1="411.5" y1="173.23" x2="413.5" y2="173.23" stroke="#c8c8c8" stroke-width="0.9"/>
<text transform="scale(1.0600 1)" x="373.62 377.76 379.83 383.97" y="176" font-size="7.452" fill="#000" stroke="#000" stroke-width="0.16">0.25</text>
<line x1="411.5" y1="155.15" x2="413.5" y2="155.15" stroke="#c8c8c8" stroke-width="0.9"/>
<text transform="scale(1.0600 1)" x="373.62 377.76 379.83 383.97" y="158" font-size="7.452" fill="#000" stroke="#000" stroke-width="0.16">0.50</text>
<line x1="411.5" y1="137.08" x2="413.5" y2="137.08" stroke="#c8c8c8" stroke-width="0.9"/>
<text transform="scale(1.0600 1)" x="373.62 377.76 379.83 383.97" y="140" font-size="7.452" fill="#000" stroke="#000" stroke-width="0.16">0.75</text>
<line x1="411.5" y1="119" x2="413.5" y2="119" stroke="#c8c8c8" stroke-width="0.9"/>
<text transform="scale(1.0600 1)" x="373.62 377.76 379.83 383.97" y="122" font-size="7.452" fill="#000" stroke="#000" stroke-width="0.16">1.00</text>
<line x1="419.3" y1="198.5" x2="419.3" y2="200.5" stroke="#c8c8c8" stroke-width="0.9"/>
<line x1="430.73" y1="198.5" x2="430.73" y2="200.5" stroke="#c8c8c8" stroke-width="0.9"/>
<line x1="442.16" y1="198.5" x2="442.16" y2="200.5" stroke="#c8c8c8" stroke-width="0.9"/>
<line x1="453.59" y1="198.5" x2="453.59" y2="200.5" stroke="#c8c8c8" stroke-width="0.9"/>
<line x1="465.02" y1="198.5" x2="465.02" y2="200.5" stroke="#c8c8c8" stroke-width="0.9"/>
<line x1="476.45" y1="198.5" x2="476.45" y2="200.5" stroke="#c8c8c8" stroke-width="0.9"/>
<line x1="487.88" y1="198.5" x2="487.88" y2="200.5" stroke="#c8c8c8" stroke-width="0.9"/>
<line x1="499.31" y1="198.5" x2="499.31" y2="200.5" stroke="#c8c8c8" stroke-width="0.9"/>
<line x1="510.74" y1="198.5" x2="510.74" y2="200.5" stroke="#c8c8c8" stroke-width="0.9"/>
<line x1="522.17" y1="198.5" x2="522.17" y2="200.5" stroke="#c8c8c8" stroke-width="0.9"/>
<line x1="533.6" y1="198.5" x2="533.6" y2="200.5" stroke="#c8c8c8" stroke-width="0.9"/>
<line x1="545.03" y1="198.5" x2="545.03" y2="200.5" stroke="#c8c8c8" stroke-width="0.9"/>
<line x1="556.46" y1="198.5" x2="556.46" y2="200.5" stroke="#c8c8c8" stroke-width="0.9"/>
<text transform="scale(1.0600 1)" x="450.2 454.82 459.44 461.48 467.04" y="111" font-size="8.316" fill="#000" stroke="#000" stroke-width="0.16">20 Hz</text>
<text transform="rotate(-90) scale(1.06 1)" x="-177.57 -172.86 -170.82 -167.85 -165.93 -161.32 -156.71 -154.4 -149.68 -146.89 -142.36 -137.83 -133.3 -128.6 -126.58 -124.56 -122.36 -119.71" y="385.5" font-size="8.316" fill="#000" stroke="#000" stroke-width="0.16">Firing probability</text>
<text transform="rotate(-90) scale(1.06 1)" x="-173.96 -171.45 -166.78 -162 -158.03 -155.73 -151.19 -146.53 -143.65 -141.35 -136.74 -132.04 -130.3 -126.4 -121.82" y="393.8" font-size="8.316" fill="#000" stroke="#000" stroke-width="0.16">(APs per pulse)</text>
<line x1="419.3" y1="287.99" x2="419.3" y2="285.1" stroke="#cfcfcf" stroke-width="1"/>
<line x1="419.3" y1="284.02" x2="419.3" y2="281.12" stroke="#b8b8b8" stroke-width="1"/>
<line x1="430.73" y1="287.99" x2="430.73" y2="285.1" stroke="#cfcfcf" stroke-width="1"/>
<line x1="430.73" y1="284.02" x2="430.73" y2="281.12" stroke="#b8b8b8" stroke-width="1"/>
<line x1="442.16" y1="286.91" x2="442.16" y2="284.02" stroke="#cfcfcf" stroke-width="1"/>
<line x1="442.16" y1="283.29" x2="442.16" y2="280.4" stroke="#b8b8b8" stroke-width="1"/>
<line x1="453.59" y1="286.19" x2="453.59" y2="281.85" stroke="#cfcfcf" stroke-width="1"/>
<line x1="453.59" y1="282.57" x2="453.59" y2="278.23" stroke="#b8b8b8" stroke-width="1"/>
<line x1="465.02" y1="286.91" x2="465.02" y2="282.57" stroke="#cfcfcf" stroke-width="1"/>
<line x1="465.02" y1="279.68" x2="465.02" y2="273.89" stroke="#b8b8b8" stroke-width="1"/>
<line x1="476.45" y1="283.29" x2="476.45" y2="276.06" stroke="#cfcfcf" stroke-width="1"/>
<line x1="476.45" y1="273.17" x2="476.45" y2="258.71" stroke="#b8b8b8" stroke-width="1"/>
<line x1="487.88" y1="281.85" x2="487.88" y2="273.17" stroke="#cfcfcf" stroke-width="1"/>
<line x1="487.88" y1="273.17" x2="487.88" y2="258.71" stroke="#b8b8b8" stroke-width="1"/>
<line x1="487.88" y1="289.08" x2="487.88" y2="287.63" stroke="#f5a3a3" stroke-width="1"/>
<line x1="499.31" y1="281.85" x2="499.31" y2="273.17" stroke="#cfcfcf" stroke-width="1"/>
<line x1="499.31" y1="278.96" x2="499.31" y2="268.83" stroke="#b8b8b8" stroke-width="1"/>
<line x1="499.31" y1="288.72" x2="499.31" y2="285.82" stroke="#f5a3a3" stroke-width="1"/>
<line x1="510.74" y1="277.51" x2="510.74" y2="267.39" stroke="#cfcfcf" stroke-width="1"/>
<line x1="510.74" y1="275.34" x2="510.74" y2="260.88" stroke="#b8b8b8" stroke-width="1"/>
<line x1="510.74" y1="279.68" x2="510.74" y2="273.89" stroke="#f5a3a3" stroke-width="1"/>
<line x1="522.17" y1="275.34" x2="522.17" y2="260.88" stroke="#cfcfcf" stroke-width="1"/>
<line x1="522.17" y1="261.24" x2="522.17" y2="246.78" stroke="#b8b8b8" stroke-width="1"/>
<line x1="522.17" y1="277.51" x2="522.17" y2="268.83" stroke="#f5a3a3" stroke-width="1"/>
<line x1="533.6" y1="256.54" x2="533.6" y2="239.19" stroke="#cfcfcf" stroke-width="1"/>
<line x1="533.6" y1="251.48" x2="533.6" y2="237.02" stroke="#b8b8b8" stroke-width="1"/>
<line x1="533.6" y1="272.45" x2="533.6" y2="263.77" stroke="#f5a3a3" stroke-width="1"/>
<line x1="545.03" y1="239.91" x2="545.03" y2="225.45" stroke="#cfcfcf" stroke-width="1"/>
<line x1="545.03" y1="246.42" x2="545.03" y2="233.41" stroke="#b8b8b8" stroke-width="1"/>
<line x1="545.03" y1="259.43" x2="545.03" y2="249.31" stroke="#f5a3a3" stroke-width="1"/>
<line x1="556.46" y1="235.58" x2="556.46" y2="224.01" stroke="#cfcfcf" stroke-width="1"/>
<line x1="556.46" y1="242.81" x2="556.46" y2="231.24" stroke="#b8b8b8" stroke-width="1"/>
<line x1="556.46" y1="247.87" x2="556.46" y2="239.19" stroke="#f5a3a3" stroke-width="1"/>
<polyline points="419.3,286.55 430.73,286.55 442.16,285.46 453.59,284.02 465.02,284.74 476.45,279.68 487.88,277.51 499.31,277.51 510.74,272.45 522.17,268.11 533.6,247.87 545.03,232.68 556.46,229.79" fill="none" stroke="#888888" stroke-width="1.2" stroke-linejoin="round"/>
<rect x="417.4" y="284.65" width="3.8" height="3.8" fill="#888888"/>
<rect x="428.83" y="284.65" width="3.8" height="3.8" fill="#888888"/>
<rect x="440.26" y="283.56" width="3.8" height="3.8" fill="#888888"/>
<rect x="451.69" y="282.12" width="3.8" height="3.8" fill="#888888"/>
<rect x="463.12" y="282.84" width="3.8" height="3.8" fill="#888888"/>
<rect x="474.55" y="277.78" width="3.8" height="3.8" fill="#888888"/>
<rect x="485.98" y="275.61" width="3.8" height="3.8" fill="#888888"/>
<rect x="497.41" y="275.61" width="3.8" height="3.8" fill="#888888"/>
<rect x="508.84" y="270.55" width="3.8" height="3.8" fill="#888888"/>
<rect x="520.27" y="266.21" width="3.8" height="3.8" fill="#888888"/>
<rect x="531.7" y="245.97" width="3.8" height="3.8" fill="#888888"/>
<rect x="543.13" y="230.78" width="3.8" height="3.8" fill="#888888"/>
<rect x="554.56" y="227.89" width="3.8" height="3.8" fill="#888888"/>
<polyline points="419.3,282.57 430.73,282.57 442.16,281.85 453.59,280.4 465.02,276.79 476.45,265.94 487.88,265.94 499.31,273.89 510.74,268.11 522.17,254.01 533.6,244.25 545.03,239.91 556.46,237.02" fill="none" stroke="#222222" stroke-width="1.2" stroke-linejoin="round"/>
<circle cx="419.3" cy="282.57" r="2.0" fill="#222222"/>
<circle cx="430.73" cy="282.57" r="2.0" fill="#222222"/>
<circle cx="442.16" cy="281.85" r="2.0" fill="#222222"/>
<circle cx="453.59" cy="280.4" r="2.0" fill="#222222"/>
<circle cx="465.02" cy="276.79" r="2.0" fill="#222222"/>
<circle cx="476.45" cy="265.94" r="2.0" fill="#222222"/>
<circle cx="487.88" cy="265.94" r="2.0" fill="#222222"/>
<circle cx="499.31" cy="273.89" r="2.0" fill="#222222"/>
<circle cx="510.74" cy="268.11" r="2.0" fill="#222222"/>
<circle cx="522.17" cy="254.01" r="2.0" fill="#222222"/>
<circle cx="533.6" cy="244.25" r="2.0" fill="#222222"/>
<circle cx="545.03" cy="239.91" r="2.0" fill="#222222"/>
<circle cx="556.46" cy="237.02" r="2.0" fill="#222222"/>
<polyline points="419.3,289.8 430.73,289.8 442.16,289.8 453.59,289.8 465.02,289.8 476.45,289.8 487.88,288.35 499.31,287.27 510.74,276.79 522.17,273.17 533.6,268.11 545.03,254.37 556.46,243.53" fill="none" stroke="#ec1c24" stroke-width="1.2" stroke-linejoin="round"/>
<path d="M417.2 287.9L421.4 287.9L419.3 291.7Z" fill="#ec1c24"/>
<path d="M428.63 287.9L432.83 287.9L430.73 291.7Z" fill="#ec1c24"/>
<path d="M440.06 287.9L444.26 287.9L442.16 291.7Z" fill="#ec1c24"/>
<path d="M451.49 287.9L455.69 287.9L453.59 291.7Z" fill="#ec1c24"/>
<path d="M462.92 287.9L467.12 287.9L465.02 291.7Z" fill="#ec1c24"/>
<path d="M474.35 287.9L478.55 287.9L476.45 291.7Z" fill="#ec1c24"/>
<path d="M485.78 286.45L489.98 286.45L487.88 290.25Z" fill="#ec1c24"/>
<path d="M497.21 285.37L501.41 285.37L499.31 289.17Z" fill="#ec1c24"/>
<path d="M508.64 274.89L512.84 274.89L510.74 278.69Z" fill="#ec1c24"/>
<path d="M520.07 271.27L524.27 271.27L522.17 275.07Z" fill="#ec1c24"/>
<path d="M531.5 266.21L535.7 266.21L533.6 270.01Z" fill="#ec1c24"/>
<path d="M542.93 252.47L547.13 252.47L545.03 256.27Z" fill="#ec1c24"/>
<path d="M554.36 241.63L558.56 241.63L556.46 245.43Z" fill="#ec1c24"/>
<line x1="413.5" y1="211" x2="413.5" y2="297.5" stroke="#c0c0c0" stroke-width="1"/>
<line x1="413.5" y1="297.5" x2="562.2" y2="297.5" stroke="#c0c0c0" stroke-width="1"/>
<line x1="411.5" y1="289.8" x2="413.5" y2="289.8" stroke="#c8c8c8" stroke-width="0.9"/>
<text transform="scale(1.0600 1)" x="373.62 377.76 379.83 383.97" y="293" font-size="7.452" fill="#000" stroke="#000" stroke-width="0.16">0.00</text>
<line x1="411.5" y1="271.73" x2="413.5" y2="271.73" stroke="#c8c8c8" stroke-width="0.9"/>
<text transform="scale(1.0600 1)" x="373.62 377.76 379.83 383.97" y="275" font-size="7.452" fill="#000" stroke="#000" stroke-width="0.16">0.25</text>
<line x1="411.5" y1="253.65" x2="413.5" y2="253.65" stroke="#c8c8c8" stroke-width="0.9"/>
<text transform="scale(1.0600 1)" x="373.62 377.76 379.83 383.97" y="257" font-size="7.452" fill="#000" stroke="#000" stroke-width="0.16">0.50</text>
<line x1="411.5" y1="235.58" x2="413.5" y2="235.58" stroke="#c8c8c8" stroke-width="0.9"/>
<text transform="scale(1.0600 1)" x="373.62 377.76 379.83 383.97" y="239" font-size="7.452" fill="#000" stroke="#000" stroke-width="0.16">0.75</text>
<line x1="411.5" y1="217.5" x2="413.5" y2="217.5" stroke="#c8c8c8" stroke-width="0.9"/>
<text transform="scale(1.0600 1)" x="373.62 377.76 379.83 383.97" y="220" font-size="7.452" fill="#000" stroke="#000" stroke-width="0.16">1.00</text>
<line x1="419.3" y1="297.5" x2="419.3" y2="299.5" stroke="#c8c8c8" stroke-width="0.9"/>
<line x1="430.73" y1="297.5" x2="430.73" y2="299.5" stroke="#c8c8c8" stroke-width="0.9"/>
<line x1="442.16" y1="297.5" x2="442.16" y2="299.5" stroke="#c8c8c8" stroke-width="0.9"/>
<line x1="453.59" y1="297.5" x2="453.59" y2="299.5" stroke="#c8c8c8" stroke-width="0.9"/>
<line x1="465.02" y1="297.5" x2="465.02" y2="299.5" stroke="#c8c8c8" stroke-width="0.9"/>
<line x1="476.45" y1="297.5" x2="476.45" y2="299.5" stroke="#c8c8c8" stroke-width="0.9"/>
<line x1="487.88" y1="297.5" x2="487.88" y2="299.5" stroke="#c8c8c8" stroke-width="0.9"/>
<line x1="499.31" y1="297.5" x2="499.31" y2="299.5" stroke="#c8c8c8" stroke-width="0.9"/>
<line x1="510.74" y1="297.5" x2="510.74" y2="299.5" stroke="#c8c8c8" stroke-width="0.9"/>
<line x1="522.17" y1="297.5" x2="522.17" y2="299.5" stroke="#c8c8c8" stroke-width="0.9"/>
<line x1="533.6" y1="297.5" x2="533.6" y2="299.5" stroke="#c8c8c8" stroke-width="0.9"/>
<line x1="545.03" y1="297.5" x2="545.03" y2="299.5" stroke="#c8c8c8" stroke-width="0.9"/>
<line x1="556.46" y1="297.5" x2="556.46" y2="299.5" stroke="#c8c8c8" stroke-width="0.9"/>
<text transform="scale(1.0600 1)" x="450.2 454.82 459.44 461.48 467.04" y="209" font-size="8.316" fill="#000" stroke="#000" stroke-width="0.16">33 Hz</text>
<text transform="rotate(-90) scale(1.06 1)" x="-270.5 -265.78 -263.74 -260.78 -258.86 -254.25 -249.63 -247.33 -242.6 -239.82 -235.29 -230.76 -226.22 -221.52 -219.5 -217.49 -215.28 -212.63" y="385.5" font-size="8.316" fill="#000" stroke="#000" stroke-width="0.16">Firing probability</text>
<text transform="rotate(-90) scale(1.06 1)" x="-266.89 -264.38 -259.7 -254.92 -250.95 -248.65 -244.11 -239.45 -236.58 -234.27 -229.67 -224.97 -223.22 -219.33 -214.75" y="393.8" font-size="8.316" fill="#000" stroke="#000" stroke-width="0.16">(APs per pulse)</text>
<line x1="419.3" y1="384.69" x2="419.3" y2="381.79" stroke="#cfcfcf" stroke-width="1"/>
<line x1="419.3" y1="381.79" x2="419.3" y2="378.9" stroke="#b8b8b8" stroke-width="1"/>
<line x1="430.73" y1="383.24" x2="430.73" y2="380.35" stroke="#cfcfcf" stroke-width="1"/>
<line x1="430.73" y1="381.79" x2="430.73" y2="378.9" stroke="#b8b8b8" stroke-width="1"/>
<line x1="442.16" y1="383.24" x2="442.16" y2="380.35" stroke="#cfcfcf" stroke-width="1"/>
<line x1="442.16" y1="381.07" x2="442.16" y2="378.18" stroke="#b8b8b8" stroke-width="1"/>
<line x1="453.59" y1="382.52" x2="453.59" y2="379.62" stroke="#cfcfcf" stroke-width="1"/>
<line x1="453.59" y1="379.62" x2="453.59" y2="376.73" stroke="#b8b8b8" stroke-width="1"/>
<line x1="453.59" y1="387.58" x2="453.59" y2="386.13" stroke="#f5a3a3" stroke-width="1"/>
<line x1="465.02" y1="381.79" x2="465.02" y2="377.46" stroke="#cfcfcf" stroke-width="1"/>
<line x1="465.02" y1="378.9" x2="465.02" y2="374.56" stroke="#b8b8b8" stroke-width="1"/>
<line x1="465.02" y1="386.85" x2="465.02" y2="385.41" stroke="#f5a3a3" stroke-width="1"/>
<line x1="476.45" y1="378.9" x2="476.45" y2="374.56" stroke="#cfcfcf" stroke-width="1"/>
<line x1="476.45" y1="378.18" x2="476.45" y2="373.84" stroke="#b8b8b8" stroke-width="1"/>
<line x1="476.45" y1="385.41" x2="476.45" y2="382.52" stroke="#f5a3a3" stroke-width="1"/>
<line x1="487.88" y1="378.9" x2="487.88" y2="373.12" stroke="#cfcfcf" stroke-width="1"/>
<line x1="487.88" y1="378.18" x2="487.88" y2="373.84" stroke="#b8b8b8" stroke-width="1"/>
<line x1="487.88" y1="380.35" x2="487.88" y2="373.12" stroke="#f5a3a3" stroke-width="1"/>
<line x1="499.31" y1="371.67" x2="499.31" y2="363" stroke="#cfcfcf" stroke-width="1"/>
<line x1="499.31" y1="378.54" x2="499.31" y2="371.31" stroke="#b8b8b8" stroke-width="1"/>
<line x1="499.31" y1="379.62" x2="499.31" y2="372.39" stroke="#f5a3a3" stroke-width="1"/>
<line x1="510.74" y1="363" x2="510.74" y2="352.87" stroke="#cfcfcf" stroke-width="1"/>
<line x1="510.74" y1="378.54" x2="510.74" y2="371.31" stroke="#b8b8b8" stroke-width="1"/>
<line x1="510.74" y1="381.07" x2="510.74" y2="372.39" stroke="#f5a3a3" stroke-width="1"/>
<line x1="522.17" y1="369.5" x2="522.17" y2="360.83" stroke="#cfcfcf" stroke-width="1"/>
<line x1="522.17" y1="369.5" x2="522.17" y2="360.83" stroke="#b8b8b8" stroke-width="1"/>
<line x1="522.17" y1="369.5" x2="522.17" y2="360.83" stroke="#f5a3a3" stroke-width="1"/>
<line x1="533.6" y1="357.21" x2="533.6" y2="342.75" stroke="#cfcfcf" stroke-width="1"/>
<line x1="533.6" y1="373.12" x2="533.6" y2="358.66" stroke="#b8b8b8" stroke-width="1"/>
<line x1="533.6" y1="374.56" x2="533.6" y2="363" stroke="#f5a3a3" stroke-width="1"/>
<line x1="545.03" y1="351.43" x2="545.03" y2="336.97" stroke="#cfcfcf" stroke-width="1"/>
<line x1="545.03" y1="365.16" x2="545.03" y2="350.7" stroke="#b8b8b8" stroke-width="1"/>
<line x1="545.03" y1="369.5" x2="545.03" y2="356.49" stroke="#f5a3a3" stroke-width="1"/>
<line x1="556.46" y1="343.47" x2="556.46" y2="326.12" stroke="#cfcfcf" stroke-width="1"/>
<line x1="556.46" y1="359.38" x2="556.46" y2="344.92" stroke="#b8b8b8" stroke-width="1"/>
<line x1="556.46" y1="365.89" x2="556.46" y2="351.43" stroke="#f5a3a3" stroke-width="1"/>
<polyline points="419.3,383.24 430.73,381.79 442.16,381.79 453.59,381.07 465.02,379.62 476.45,376.73 487.88,376.01 499.31,367.33 510.74,357.93 522.17,365.16 533.6,349.98 545.03,344.2 556.46,334.8" fill="none" stroke="#888888" stroke-width="1.2" stroke-linejoin="round"/>
<rect x="417.4" y="381.34" width="3.8" height="3.8" fill="#888888"/>
<rect x="428.83" y="379.89" width="3.8" height="3.8" fill="#888888"/>
<rect x="440.26" y="379.89" width="3.8" height="3.8" fill="#888888"/>
<rect x="451.69" y="379.17" width="3.8" height="3.8" fill="#888888"/>
<rect x="463.12" y="377.72" width="3.8" height="3.8" fill="#888888"/>
<rect x="474.55" y="374.83" width="3.8" height="3.8" fill="#888888"/>
<rect x="485.98" y="374.11" width="3.8" height="3.8" fill="#888888"/>
<rect x="497.41" y="365.43" width="3.8" height="3.8" fill="#888888"/>
<rect x="508.84" y="356.03" width="3.8" height="3.8" fill="#888888"/>
<rect x="520.27" y="363.26" width="3.8" height="3.8" fill="#888888"/>
<rect x="531.7" y="348.08" width="3.8" height="3.8" fill="#888888"/>
<rect x="543.13" y="342.3" width="3.8" height="3.8" fill="#888888"/>
<rect x="554.56" y="332.9" width="3.8" height="3.8" fill="#888888"/>
<polyline points="419.3,380.35 430.73,380.35 442.16,379.62 453.59,378.18 465.02,376.73 476.45,376.01 487.88,376.01 499.31,374.92 510.74,374.92 522.17,365.16 533.6,365.89 545.03,357.93 556.46,352.15" fill="none" stroke="#222222" stroke-width="1.2" stroke-linejoin="round"/>
<circle cx="419.3" cy="380.35" r="2.0" fill="#222222"/>
<circle cx="430.73" cy="380.35" r="2.0" fill="#222222"/>
<circle cx="442.16" cy="379.62" r="2.0" fill="#222222"/>
<circle cx="453.59" cy="378.18" r="2.0" fill="#222222"/>
<circle cx="465.02" cy="376.73" r="2.0" fill="#222222"/>
<circle cx="476.45" cy="376.01" r="2.0" fill="#222222"/>
<circle cx="487.88" cy="376.01" r="2.0" fill="#222222"/>
<circle cx="499.31" cy="374.92" r="2.0" fill="#222222"/>
<circle cx="510.74" cy="374.92" r="2.0" fill="#222222"/>
<circle cx="522.17" cy="365.16" r="2.0" fill="#222222"/>
<circle cx="533.6" cy="365.89" r="2.0" fill="#222222"/>
<circle cx="545.03" cy="357.93" r="2.0" fill="#222222"/>
<circle cx="556.46" cy="352.15" r="2.0" fill="#222222"/>
<polyline points="419.3,388.3 430.73,388.3 442.16,388.3 453.59,386.85 465.02,386.13 476.45,383.96 487.88,376.73 499.31,376.01 510.74,376.73 522.17,365.16 533.6,368.78 545.03,363 556.46,358.66" fill="none" stroke="#ec1c24" stroke-width="1.2" stroke-linejoin="round"/>
<path d="M417.2 386.4L421.4 386.4L419.3 390.2Z" fill="#ec1c24"/>
<path d="M428.63 386.4L432.83 386.4L430.73 390.2Z" fill="#ec1c24"/>
<path d="M440.06 386.4L444.26 386.4L442.16 390.2Z" fill="#ec1c24"/>
<path d="M451.49 384.95L455.69 384.95L453.59 388.75Z" fill="#ec1c24"/>
<path d="M462.92 384.23L467.12 384.23L465.02 388.03Z" fill="#ec1c24"/>
<path d="M474.35 382.06L478.55 382.06L476.45 385.86Z" fill="#ec1c24"/>
<path d="M485.78 374.83L489.98 374.83L487.88 378.63Z" fill="#ec1c24"/>
<path d="M497.21 374.11L501.41 374.11L499.31 377.91Z" fill="#ec1c24"/>
<path d="M508.64 374.83L512.84 374.83L510.74 378.63Z" fill="#ec1c24"/>
<path d="M520.07 363.26L524.27 363.26L522.17 367.06Z" fill="#ec1c24"/>
<path d="M531.5 366.88L535.7 366.88L533.6 370.68Z" fill="#ec1c24"/>
<path d="M542.93 361.1L547.13 361.1L545.03 364.89Z" fill="#ec1c24"/>
<path d="M554.36 356.76L558.56 356.76L556.46 360.56Z" fill="#ec1c24"/>
<line x1="413.5" y1="309.5" x2="413.5" y2="395.3" stroke="#c0c0c0" stroke-width="1"/>
<line x1="413.5" y1="395.3" x2="562.2" y2="395.3" stroke="#c0c0c0" stroke-width="1"/>
<line x1="411.5" y1="388.3" x2="413.5" y2="388.3" stroke="#c8c8c8" stroke-width="0.9"/>
<text transform="scale(1.0600 1)" x="373.62 377.76 379.83 383.97" y="391" font-size="7.452" fill="#000" stroke="#000" stroke-width="0.16">0.00</text>
<line x1="411.5" y1="370.23" x2="413.5" y2="370.23" stroke="#c8c8c8" stroke-width="0.9"/>
<text transform="scale(1.0600 1)" x="373.62 377.76 379.83 383.97" y="373" font-size="7.452" fill="#000" stroke="#000" stroke-width="0.16">0.25</text>
<line x1="411.5" y1="352.15" x2="413.5" y2="352.15" stroke="#c8c8c8" stroke-width="0.9"/>
<text transform="scale(1.0600 1)" x="373.62 377.76 379.83 383.97" y="355" font-size="7.452" fill="#000" stroke="#000" stroke-width="0.16">0.50</text>
<line x1="411.5" y1="334.08" x2="413.5" y2="334.08" stroke="#c8c8c8" stroke-width="0.9"/>
<text transform="scale(1.0600 1)" x="373.62 377.76 379.83 383.97" y="337" font-size="7.452" fill="#000" stroke="#000" stroke-width="0.16">0.75</text>
<line x1="411.5" y1="316" x2="413.5" y2="316" stroke="#c8c8c8" stroke-width="0.9"/>
<text transform="scale(1.0600 1)" x="373.62 377.76 379.83 383.97" y="319" font-size="7.452" fill="#000" stroke="#000" stroke-width="0.16">1.00</text>
<line x1="419.3" y1="395.3" x2="419.3" y2="397.3" stroke="#c8c8c8" stroke-width="0.9"/>
<line x1="430.73" y1="395.3" x2="430.73" y2="397.3" stroke="#c8c8c8" stroke-width="0.9"/>
<line x1="442.16" y1="395.3" x2="442.16" y2="397.3" stroke="#c8c8c8" stroke-width="0.9"/>
<line x1="453.59" y1="395.3" x2="453.59" y2="397.3" stroke="#c8c8c8" stroke-width="0.9"/>
<line x1="465.02" y1="395.3" x2="465.02" y2="397.3" stroke="#c8c8c8" stroke-width="0.9"/>
<line x1="476.45" y1="395.3" x2="476.45" y2="397.3" stroke="#c8c8c8" stroke-width="0.9"/>
<line x1="487.88" y1="395.3" x2="487.88" y2="397.3" stroke="#c8c8c8" stroke-width="0.9"/>
<line x1="499.31" y1="395.3" x2="499.31" y2="397.3" stroke="#c8c8c8" stroke-width="0.9"/>
<line x1="510.74" y1="395.3" x2="510.74" y2="397.3" stroke="#c8c8c8" stroke-width="0.9"/>
<line x1="522.17" y1="395.3" x2="522.17" y2="397.3" stroke="#c8c8c8" stroke-width="0.9"/>
<line x1="533.6" y1="395.3" x2="533.6" y2="397.3" stroke="#c8c8c8" stroke-width="0.9"/>
<line x1="545.03" y1="395.3" x2="545.03" y2="397.3" stroke="#c8c8c8" stroke-width="0.9"/>
<line x1="556.46" y1="395.3" x2="556.46" y2="397.3" stroke="#c8c8c8" stroke-width="0.9"/>
<text transform="scale(1.0600 1)" x="450.2 454.82 459.44 461.48 467.04" y="308" font-size="8.316" fill="#000" stroke="#000" stroke-width="0.16">50 Hz</text>
<text transform="rotate(-90) scale(1.06 1)" x="-363.42 -358.71 -356.67 -353.7 -351.78 -347.17 -342.56 -340.25 -335.53 -332.74 -328.21 -323.68 -319.15 -314.45 -312.43 -310.41 -308.21 -305.56" y="385.5" font-size="8.316" fill="#000" stroke="#000" stroke-width="0.16">Firing probability</text>
<text transform="rotate(-90) scale(1.06 1)" x="-359.81 -357.3 -352.63 -347.85 -343.88 -341.58 -337.04 -332.38 -329.5 -327.2 -322.59 -317.89 -316.15 -312.25 -307.67" y="393.8" font-size="8.316" fill="#000" stroke="#000" stroke-width="0.16">(APs per pulse)</text>
<text transform="scale(1.0600 1)" x="393.49" y="403" font-size="7.452" fill="#000" stroke="#000" stroke-width="0.16">0</text>
<text transform="scale(1.0600 1)" x="412.99 417.13" y="403" font-size="7.452" fill="#000" stroke="#000" stroke-width="0.16">20</text>
<text transform="scale(1.0600 1)" x="434.56 438.7" y="403" font-size="7.452" fill="#000" stroke="#000" stroke-width="0.16">40</text>
<text transform="scale(1.0600 1)" x="456.12 460.26" y="403" font-size="7.452" fill="#000" stroke="#000" stroke-width="0.16">60</text>
<text transform="scale(1.0600 1)" x="477.69 481.83" y="403" font-size="7.452" fill="#000" stroke="#000" stroke-width="0.16">80</text>
<text transform="scale(1.0600 1)" x="497.18 501.32 505.47" y="403" font-size="7.452" fill="#000" stroke="#000" stroke-width="0.16">100</text>
<text transform="scale(1.0600 1)" x="518.75 522.89 527.03" y="403" font-size="7.452" fill="#000" stroke="#000" stroke-width="0.16">120</text>
<text transform="scale(1.0600 1)" x="431.27 436.42 438.28 442.74 447.09 449.78 452.74 454.59 458.58 463.2 465.14 466.86 471.74 476.24 482.13 486.79" y="411" font-size="8.316" fill="#000" stroke="#000" stroke-width="0.16">Electrical Power</text>
<text transform="scale(1.0600 1)" x="412.98 415.54 422.68 424.81 428.86 430.79 435.39 440.1 441.95 446.5 448.8 453.41 458.11 459.85 463.75 468.29 470.87 473.44 478.16 480.96 485.32 489.29 493.81 498.43 500.36 505.01" y="420" font-size="8.316" fill="#000" stroke="#000" stroke-width="0.16">(% single pulse threshold)</text>
<text transform="scale(1.0600 1)" x="413.67 417.92 422.27 426.17 430.82 433.7 435.43 440.3 444.8 450.7 455.35" y="322" font-size="8.316" fill="#000" stroke="#000" stroke-width="0.16">Laser Power</text>
<rect x="426.6" y="329.1" width="3.9" height="3.9" fill="#888888"/>
<circle cx="428.5" cy="342.0" r="2.0" fill="#222222"/>
<path d="M426.5 351.4L430.5 351.4L428.5 355.2Z" fill="#ec1c24"/>
<text transform="scale(1.0600 1)" x="417.17 423.26 425.61 429.02 434.49 436.8 441.42 446.05 450.42 457.6 460.4 463.33 468.8 470.63" y="333" font-size="8.316" fill="#000" stroke="#000" stroke-width="0.16">O (&lt; 100%) + E</text>
<text transform="scale(1.0600 1)" x="417.17 423.26 425.61 429.17 434.49 436.8 441.42 446.05 450.42 457.6 460.4 463.33 468.8 470.63" y="345" font-size="8.316" fill="#000" stroke="#000" stroke-width="0.16">O (≥ 100%) + E</text>
<text transform="scale(1.0600 1)" x="417.16" y="356" font-size="8.316" fill="#000" stroke="#000" stroke-width="0.16">E</text>
</svg></body></html>
